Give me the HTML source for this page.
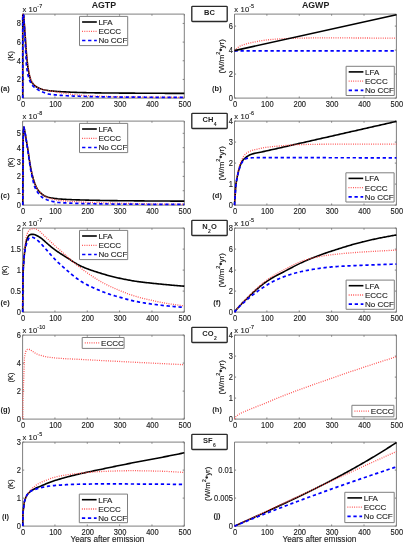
<!DOCTYPE html>
<html><head><meta charset="utf-8"><style>
html,body{margin:0;padding:0;background:#fff;width:404px;height:545px;overflow:hidden}
text{stroke:#1e1e1e;stroke-width:0.14px}
text[font-weight="bold"]{stroke-width:0}

</style></head><body>
<svg width="404" height="545" viewBox="0 0 404 545" style="display:block;filter:blur(0.3px)">
<g font-family='"Liberation Sans", sans-serif' stroke-linejoin="round">
<text x="103.9" y="8.2" font-size="8.8" text-anchor="middle" font-weight="bold" fill="#1e1e1e" >AGTP</text>
<text x="315.6" y="8.2" font-size="8.8" text-anchor="middle" font-weight="bold" fill="#1e1e1e" >AGWP</text>
<rect x="22.6" y="14.1" width="161.7" height="84" fill="none" stroke="#7f7f7f" stroke-width="1"/>
<path d="M22.6 98.1 v-1.6 M22.6 14.1 v1.6" stroke="#7f7f7f" stroke-width="1"/>
<text transform="translate(23.1 107.1) scale(0.92 1)" font-size="8.2" text-anchor="middle" font-weight="normal" fill="#1e1e1e" >0</text>
<path d="M54.94 98.1 v-1.6 M54.94 14.1 v1.6" stroke="#7f7f7f" stroke-width="1"/>
<text transform="translate(55.44 107.1) scale(0.92 1)" font-size="8.2" text-anchor="middle" font-weight="normal" fill="#1e1e1e" >100</text>
<path d="M87.28 98.1 v-1.6 M87.28 14.1 v1.6" stroke="#7f7f7f" stroke-width="1"/>
<text transform="translate(87.78 107.1) scale(0.92 1)" font-size="8.2" text-anchor="middle" font-weight="normal" fill="#1e1e1e" >200</text>
<path d="M119.62 98.1 v-1.6 M119.62 14.1 v1.6" stroke="#7f7f7f" stroke-width="1"/>
<text transform="translate(120.12 107.1) scale(0.92 1)" font-size="8.2" text-anchor="middle" font-weight="normal" fill="#1e1e1e" >300</text>
<path d="M151.96 98.1 v-1.6 M151.96 14.1 v1.6" stroke="#7f7f7f" stroke-width="1"/>
<text transform="translate(152.46 107.1) scale(0.92 1)" font-size="8.2" text-anchor="middle" font-weight="normal" fill="#1e1e1e" >400</text>
<path d="M184.3 98.1 v-1.6 M184.3 14.1 v1.6" stroke="#7f7f7f" stroke-width="1"/>
<text transform="translate(184.8 107.1) scale(0.92 1)" font-size="8.2" text-anchor="middle" font-weight="normal" fill="#1e1e1e" >500</text>
<path d="M22.6 98.1 h1.6 M184.3 98.1 h-1.6" stroke="#7f7f7f" stroke-width="1"/>
<text transform="translate(21 101) scale(0.92 1)" font-size="8.2" text-anchor="end" font-weight="normal" fill="#1e1e1e" >0</text>
<path d="M22.6 79.43 h1.6 M184.3 79.43 h-1.6" stroke="#7f7f7f" stroke-width="1"/>
<text transform="translate(21 82.33) scale(0.92 1)" font-size="8.2" text-anchor="end" font-weight="normal" fill="#1e1e1e" >2</text>
<path d="M22.6 60.77 h1.6 M184.3 60.77 h-1.6" stroke="#7f7f7f" stroke-width="1"/>
<text transform="translate(21 63.67) scale(0.92 1)" font-size="8.2" text-anchor="end" font-weight="normal" fill="#1e1e1e" >4</text>
<path d="M22.6 42.1 h1.6 M184.3 42.1 h-1.6" stroke="#7f7f7f" stroke-width="1"/>
<text transform="translate(21 45) scale(0.92 1)" font-size="8.2" text-anchor="end" font-weight="normal" fill="#1e1e1e" >6</text>
<path d="M22.6 23.43 h1.6 M184.3 23.43 h-1.6" stroke="#7f7f7f" stroke-width="1"/>
<text transform="translate(21 26.33) scale(0.92 1)" font-size="8.2" text-anchor="end" font-weight="normal" fill="#1e1e1e" >8</text>
<text x="22.4" y="11.6" font-size="7.6" fill="#1e1e1e" letter-spacing="0.15">x 10<tspan font-size="5.4" dy="-4.0" letter-spacing="0">-7</tspan></text>
<path d="M22.75 98.1 L22.75 14.6 L23.2 14.4 L23.7 15.3 L25.05 34.13 L26.4 53.29 L27.75 66.48 L29.1 74.27 L30.45 79.24 L31.8 82.18 L33.15 84.07 L34.5 85.48 L35.85 86.5 L37.2 87.32 L38.55 87.99 L39.89 88.55 L41.24 89.01 L42.59 89.42 L43.94 89.77 L45.29 90.08 L46.64 90.32 L47.99 90.53 L49.34 90.71 L50.69 90.87 L52.04 91 L53.39 91.13 L54.74 91.25 L56.09 91.36 L57.44 91.45 L58.79 91.54 L60.14 91.63 L61.49 91.7 L62.84 91.78 L64.19 91.85 L65.54 91.92 L66.89 91.99 L68.24 92.05 L69.59 92.12 L70.94 92.18 L72.28 92.23 L73.63 92.29 L74.98 92.34 L76.33 92.38 L77.68 92.43 L79.03 92.47 L80.38 92.51 L81.73 92.55 L83.08 92.58 L84.43 92.62 L85.78 92.65 L87.13 92.68 L88.48 92.72 L89.83 92.74 L91.18 92.77 L92.53 92.8 L93.88 92.82 L95.23 92.85 L96.58 92.87 L97.93 92.88 L99.28 92.9 L100.63 92.92 L101.98 92.93 L103.33 92.94 L104.67 92.96 L106.02 92.97 L107.37 92.98 L108.72 93 L110.07 93.01 L111.42 93.02 L112.77 93.03 L114.12 93.04 L115.47 93.05 L116.82 93.06 L118.17 93.07 L119.52 93.08 L120.87 93.09 L122.22 93.1 L123.57 93.11 L124.92 93.11 L126.27 93.12 L127.62 93.13 L128.97 93.14 L130.32 93.15 L131.67 93.15 L133.02 93.16 L134.37 93.17 L135.72 93.18 L137.06 93.18 L138.41 93.19 L139.76 93.2 L141.11 93.21 L142.46 93.21 L143.81 93.22 L145.16 93.23 L146.51 93.24 L147.86 93.24 L149.21 93.25 L150.56 93.26 L151.91 93.26 L153.26 93.27 L154.61 93.28 L155.96 93.28 L157.31 93.29 L158.66 93.3 L160.01 93.3 L161.36 93.31 L162.71 93.32 L164.06 93.32 L165.41 93.33 L166.76 93.33 L168.11 93.34 L169.45 93.35 L170.8 93.35 L172.15 93.36 L173.5 93.36 L174.85 93.37 L176.2 93.37 L177.55 93.38 L178.9 93.38 L180.25 93.39 L181.6 93.39 L182.95 93.4 L184.3 93.4" fill="none" stroke="#000" stroke-width="1.6" stroke-linejoin="round"/>
<path d="M22.75 98.1 L22.75 14.6 L23.2 14.4 L23.8 15.3 L25.15 32.2 L26.5 52.08 L27.85 65.03 L29.19 73.11 L30.54 78.46 L31.89 81.62 L33.24 83.61 L34.59 85.09 L35.94 86.17 L37.29 87.01 L38.64 87.71 L39.98 88.31 L41.33 88.82 L42.68 89.28 L44.03 89.69 L45.38 90.05 L46.73 90.35 L48.08 90.59 L49.43 90.81 L50.77 91.01 L52.12 91.22 L53.47 91.45 L54.82 91.67 L56.17 91.9 L57.52 92.12 L58.87 92.34 L60.22 92.56 L61.56 92.77 L62.91 92.98 L64.26 93.19 L65.61 93.39 L66.96 93.6 L68.31 93.81 L69.66 94.02 L71.01 94.21 L72.35 94.39 L73.7 94.54 L75.05 94.69 L76.4 94.82 L77.75 94.95 L79.1 95.07 L80.45 95.18 L81.8 95.28 L83.14 95.38 L84.49 95.47 L85.84 95.55 L87.19 95.63 L88.54 95.7 L89.89 95.78 L91.24 95.84 L92.59 95.91 L93.93 95.97 L95.28 96.03 L96.63 96.08 L97.98 96.13 L99.33 96.18 L100.68 96.22 L102.03 96.26 L103.38 96.31 L104.72 96.35 L106.07 96.39 L107.42 96.43 L108.77 96.47 L110.12 96.5 L111.47 96.54 L112.82 96.57 L114.17 96.61 L115.51 96.64 L116.86 96.67 L118.21 96.7 L119.56 96.73 L120.91 96.76 L122.26 96.78 L123.61 96.81 L124.96 96.83 L126.3 96.85 L127.65 96.87 L129 96.89 L130.35 96.9 L131.7 96.92 L133.05 96.94 L134.4 96.95 L135.75 96.97 L137.09 96.98 L138.44 97 L139.79 97.01 L141.14 97.03 L142.49 97.04 L143.84 97.06 L145.19 97.07 L146.54 97.08 L147.88 97.1 L149.23 97.11 L150.58 97.12 L151.93 97.13 L153.28 97.15 L154.63 97.16 L155.98 97.17 L157.33 97.18 L158.67 97.19 L160.02 97.2 L161.37 97.21 L162.72 97.22 L164.07 97.23 L165.42 97.24 L166.77 97.25 L168.12 97.25 L169.46 97.26 L170.81 97.27 L172.16 97.27 L173.51 97.28 L174.86 97.28 L176.21 97.29 L177.56 97.29 L178.91 97.29 L180.25 97.3 L181.6 97.3 L182.95 97.3 L184.3 97.3" fill="none" stroke="#ff4a4a" stroke-width="1.3" stroke-dasharray="0.9 1.35"/>
<path d="M22.75 98.1 L22.75 14.6 L23.2 14.4 L23.7 15.3 L25.05 39.41 L26.4 65.29 L27.75 74.33 L29.1 79.08 L30.45 82.2 L31.8 84.54 L33.15 86.25 L34.5 87.5 L35.85 88.49 L37.2 89.34 L38.55 90.12 L39.89 90.82 L41.24 91.45 L42.59 92.02 L43.94 92.54 L45.29 93.04 L46.64 93.49 L47.99 93.85 L49.34 94.12 L50.69 94.33 L52.04 94.53 L53.39 94.69 L54.74 94.84 L56.09 94.97 L57.44 95.09 L58.79 95.21 L60.14 95.31 L61.49 95.41 L62.84 95.51 L64.19 95.59 L65.54 95.67 L66.89 95.75 L68.24 95.82 L69.59 95.88 L70.94 95.94 L72.28 96 L73.63 96.05 L74.98 96.11 L76.33 96.16 L77.68 96.21 L79.03 96.26 L80.38 96.31 L81.73 96.36 L83.08 96.4 L84.43 96.45 L85.78 96.49 L87.13 96.53 L88.48 96.57 L89.83 96.6 L91.18 96.64 L92.53 96.67 L93.88 96.7 L95.23 96.73 L96.58 96.76 L97.93 96.78 L99.28 96.8 L100.63 96.82 L101.98 96.84 L103.33 96.86 L104.67 96.88 L106.02 96.9 L107.37 96.91 L108.72 96.93 L110.07 96.95 L111.42 96.96 L112.77 96.98 L114.12 96.99 L115.47 97.01 L116.82 97.02 L118.17 97.03 L119.52 97.05 L120.87 97.06 L122.22 97.07 L123.57 97.08 L124.92 97.09 L126.27 97.1 L127.62 97.11 L128.97 97.12 L130.32 97.13 L131.67 97.14 L133.02 97.15 L134.37 97.16 L135.72 97.17 L137.06 97.18 L138.41 97.19 L139.76 97.2 L141.11 97.21 L142.46 97.22 L143.81 97.22 L145.16 97.23 L146.51 97.24 L147.86 97.25 L149.21 97.26 L150.56 97.26 L151.91 97.27 L153.26 97.28 L154.61 97.29 L155.96 97.29 L157.31 97.3 L158.66 97.31 L160.01 97.31 L161.36 97.32 L162.71 97.33 L164.06 97.33 L165.41 97.34 L166.76 97.35 L168.11 97.35 L169.45 97.36 L170.8 97.36 L172.15 97.37 L173.5 97.37 L174.85 97.38 L176.2 97.38 L177.55 97.38 L178.9 97.39 L180.25 97.39 L181.6 97.39 L182.95 97.4 L184.3 97.4" fill="none" stroke="#0000ff" stroke-width="1.7" stroke-dasharray="3.3 2.7"/>
<rect x="79.5" y="16.4" width="48.2" height="29.2" fill="#fff" stroke="#7f7f7f" stroke-width="1"/>
<path d="M82.1 22 L96.8 22" fill="none" stroke="#000" stroke-width="1.6" stroke-linejoin="round"/>
<text x="98.4" y="24.8" font-size="8.0" text-anchor="start" font-weight="normal" fill="#1e1e1e" >LFA</text>
<path d="M82.1 31.3 L96.8 31.3" fill="none" stroke="#ff4a4a" stroke-width="1.3" stroke-dasharray="0.9 1.35"/>
<text x="98.4" y="34.1" font-size="8.0" text-anchor="start" font-weight="normal" fill="#1e1e1e" >ECCC</text>
<path d="M82.1 40.5 L96.8 40.5" fill="none" stroke="#0000ff" stroke-width="1.7" stroke-dasharray="3.3 2.7"/>
<text x="98.4" y="43.3" font-size="8.0" text-anchor="start" font-weight="normal" fill="#1e1e1e" >No CCF</text>
<text x="0" y="0" font-size="7.5" text-anchor="middle" fill="#1e1e1e" transform="translate(12.7 56.1) rotate(-90)">(K)</text>
<text x="0.6" y="90.5" font-size="7.5" text-anchor="start" font-weight="bold" fill="#1e1e1e" >(a)</text>
<rect x="22.6" y="121.1" width="161.7" height="84" fill="none" stroke="#7f7f7f" stroke-width="1"/>
<path d="M22.6 205.1 v-1.6 M22.6 121.1 v1.6" stroke="#7f7f7f" stroke-width="1"/>
<text transform="translate(23.1 214.1) scale(0.92 1)" font-size="8.2" text-anchor="middle" font-weight="normal" fill="#1e1e1e" >0</text>
<path d="M54.94 205.1 v-1.6 M54.94 121.1 v1.6" stroke="#7f7f7f" stroke-width="1"/>
<text transform="translate(55.44 214.1) scale(0.92 1)" font-size="8.2" text-anchor="middle" font-weight="normal" fill="#1e1e1e" >100</text>
<path d="M87.28 205.1 v-1.6 M87.28 121.1 v1.6" stroke="#7f7f7f" stroke-width="1"/>
<text transform="translate(87.78 214.1) scale(0.92 1)" font-size="8.2" text-anchor="middle" font-weight="normal" fill="#1e1e1e" >200</text>
<path d="M119.62 205.1 v-1.6 M119.62 121.1 v1.6" stroke="#7f7f7f" stroke-width="1"/>
<text transform="translate(120.12 214.1) scale(0.92 1)" font-size="8.2" text-anchor="middle" font-weight="normal" fill="#1e1e1e" >300</text>
<path d="M151.96 205.1 v-1.6 M151.96 121.1 v1.6" stroke="#7f7f7f" stroke-width="1"/>
<text transform="translate(152.46 214.1) scale(0.92 1)" font-size="8.2" text-anchor="middle" font-weight="normal" fill="#1e1e1e" >400</text>
<path d="M184.3 205.1 v-1.6 M184.3 121.1 v1.6" stroke="#7f7f7f" stroke-width="1"/>
<text transform="translate(184.8 214.1) scale(0.92 1)" font-size="8.2" text-anchor="middle" font-weight="normal" fill="#1e1e1e" >500</text>
<path d="M22.6 205.1 h1.6 M184.3 205.1 h-1.6" stroke="#7f7f7f" stroke-width="1"/>
<text transform="translate(21 208) scale(0.92 1)" font-size="8.2" text-anchor="end" font-weight="normal" fill="#1e1e1e" >0</text>
<path d="M22.6 190.74 h1.6 M184.3 190.74 h-1.6" stroke="#7f7f7f" stroke-width="1"/>
<text transform="translate(21 193.64) scale(0.92 1)" font-size="8.2" text-anchor="end" font-weight="normal" fill="#1e1e1e" >1</text>
<path d="M22.6 176.38 h1.6 M184.3 176.38 h-1.6" stroke="#7f7f7f" stroke-width="1"/>
<text transform="translate(21 179.28) scale(0.92 1)" font-size="8.2" text-anchor="end" font-weight="normal" fill="#1e1e1e" >2</text>
<path d="M22.6 162.02 h1.6 M184.3 162.02 h-1.6" stroke="#7f7f7f" stroke-width="1"/>
<text transform="translate(21 164.92) scale(0.92 1)" font-size="8.2" text-anchor="end" font-weight="normal" fill="#1e1e1e" >3</text>
<path d="M22.6 147.66 h1.6 M184.3 147.66 h-1.6" stroke="#7f7f7f" stroke-width="1"/>
<text transform="translate(21 150.56) scale(0.92 1)" font-size="8.2" text-anchor="end" font-weight="normal" fill="#1e1e1e" >4</text>
<path d="M22.6 133.31 h1.6 M184.3 133.31 h-1.6" stroke="#7f7f7f" stroke-width="1"/>
<text transform="translate(21 136.21) scale(0.92 1)" font-size="8.2" text-anchor="end" font-weight="normal" fill="#1e1e1e" >5</text>
<text x="22.4" y="118.6" font-size="7.6" fill="#1e1e1e" letter-spacing="0.15">x 10<tspan font-size="5.4" dy="-4.0" letter-spacing="0">-8</tspan></text>
<path d="M22.8 205.1 L23 170 L23.2 140 L23.5 130.5 L23.9 127 L25.25 133.68 L26.6 141.92 L27.94 149.93 L29.29 159.43 L30.64 167.57 L31.99 173.98 L33.34 178.98 L34.68 183.17 L36.03 186.61 L37.38 189.11 L38.73 190.94 L40.07 192.39 L41.42 193.65 L42.77 194.77 L44.12 195.67 L45.47 196.27 L46.81 196.75 L48.16 197.15 L49.51 197.5 L50.86 197.79 L52.21 198.04 L53.55 198.26 L54.9 198.47 L56.25 198.66 L57.6 198.82 L58.95 198.94 L60.29 199.04 L61.64 199.13 L62.99 199.21 L64.34 199.29 L65.68 199.36 L67.03 199.43 L68.38 199.5 L69.73 199.56 L71.08 199.62 L72.42 199.68 L73.77 199.73 L75.12 199.78 L76.47 199.83 L77.82 199.87 L79.16 199.91 L80.51 199.95 L81.86 199.99 L83.21 200.03 L84.56 200.07 L85.9 200.1 L87.25 200.13 L88.6 200.17 L89.95 200.2 L91.29 200.23 L92.64 200.26 L93.99 200.29 L95.34 200.32 L96.69 200.35 L98.03 200.37 L99.38 200.4 L100.73 200.43 L102.08 200.45 L103.43 200.48 L104.77 200.5 L106.12 200.52 L107.47 200.54 L108.82 200.56 L110.17 200.58 L111.51 200.6 L112.86 200.62 L114.21 200.64 L115.56 200.65 L116.91 200.67 L118.25 200.68 L119.6 200.7 L120.95 200.71 L122.3 200.72 L123.64 200.73 L124.99 200.75 L126.34 200.76 L127.69 200.77 L129.04 200.79 L130.38 200.8 L131.73 200.81 L133.08 200.82 L134.43 200.83 L135.78 200.85 L137.12 200.86 L138.47 200.87 L139.82 200.88 L141.17 200.89 L142.52 200.9 L143.86 200.91 L145.21 200.93 L146.56 200.94 L147.91 200.95 L149.25 200.96 L150.6 200.97 L151.95 200.98 L153.3 200.98 L154.65 200.99 L155.99 201 L157.34 201.01 L158.69 201.02 L160.04 201.03 L161.39 201.03 L162.73 201.04 L164.08 201.05 L165.43 201.05 L166.78 201.06 L168.13 201.07 L169.47 201.07 L170.82 201.08 L172.17 201.08 L173.52 201.08 L174.86 201.09 L176.21 201.09 L177.56 201.09 L178.91 201.1 L180.26 201.1 L181.6 201.1 L182.95 201.1 L184.3 201.1" fill="none" stroke="#000" stroke-width="1.6" stroke-linejoin="round"/>
<path d="M22.8 205.1 L23 170 L23.2 140 L23.5 130.5 L23.9 127 L25.25 133.43 L26.6 141.26 L27.94 149.29 L29.29 158.69 L30.64 167.04 L31.99 173.56 L33.34 178.64 L34.68 182.87 L36.03 186.37 L37.38 188.96 L38.73 190.86 L40.07 192.37 L41.42 193.68 L42.77 194.84 L44.12 195.8 L45.47 196.55 L46.81 197.19 L48.16 197.77 L49.51 198.26 L50.86 198.69 L52.21 199.05 L53.55 199.37 L54.9 199.65 L56.25 199.91 L57.6 200.13 L58.95 200.31 L60.29 200.46 L61.64 200.6 L62.99 200.73 L64.34 200.86 L65.68 200.98 L67.03 201.09 L68.38 201.2 L69.73 201.3 L71.08 201.4 L72.42 201.49 L73.77 201.58 L75.12 201.66 L76.47 201.75 L77.82 201.82 L79.16 201.9 L80.51 201.97 L81.86 202.04 L83.21 202.1 L84.56 202.16 L85.9 202.23 L87.25 202.28 L88.6 202.34 L89.95 202.4 L91.29 202.45 L92.64 202.51 L93.99 202.56 L95.34 202.61 L96.69 202.66 L98.03 202.71 L99.38 202.75 L100.73 202.8 L102.08 202.84 L103.43 202.88 L104.77 202.92 L106.12 202.96 L107.47 203 L108.82 203.04 L110.17 203.07 L111.51 203.11 L112.86 203.14 L114.21 203.17 L115.56 203.21 L116.91 203.24 L118.25 203.26 L119.6 203.29 L120.95 203.32 L122.3 203.35 L123.64 203.37 L124.99 203.4 L126.34 203.43 L127.69 203.45 L129.04 203.48 L130.38 203.5 L131.73 203.53 L133.08 203.56 L134.43 203.58 L135.78 203.61 L137.12 203.63 L138.47 203.66 L139.82 203.68 L141.17 203.7 L142.52 203.73 L143.86 203.75 L145.21 203.77 L146.56 203.8 L147.91 203.82 L149.25 203.84 L150.6 203.86 L151.95 203.88 L153.3 203.9 L154.65 203.92 L155.99 203.94 L157.34 203.96 L158.69 203.98 L160.04 204 L161.39 204.01 L162.73 204.03 L164.08 204.05 L165.43 204.06 L166.78 204.08 L168.13 204.09 L169.47 204.1 L170.82 204.12 L172.17 204.13 L173.52 204.14 L174.86 204.15 L176.21 204.16 L177.56 204.17 L178.91 204.18 L180.26 204.18 L181.6 204.19 L182.95 204.2 L184.3 204.2" fill="none" stroke="#ff4a4a" stroke-width="1.3" stroke-dasharray="0.9 1.35"/>
<path d="M22.8 205.1 L23 170 L23.2 140 L23.5 130.5 L23.9 127 L25.25 133.97 L26.6 142.72 L27.94 151.15 L29.29 161.18 L30.64 169.64 L31.99 176.45 L33.34 182.03 L34.68 186.66 L36.03 189.78 L37.38 191.98 L38.73 193.8 L40.07 195.44 L41.42 196.74 L42.77 197.69 L44.12 198.49 L45.47 199.16 L46.81 199.73 L48.16 200.21 L49.51 200.64 L50.86 201.01 L52.21 201.33 L53.55 201.61 L54.9 201.88 L56.25 202.13 L57.6 202.34 L58.95 202.51 L60.29 202.62 L61.64 202.71 L62.99 202.79 L64.34 202.87 L65.68 202.94 L67.03 203.01 L68.38 203.07 L69.73 203.13 L71.08 203.19 L72.42 203.24 L73.77 203.29 L75.12 203.34 L76.47 203.38 L77.82 203.42 L79.16 203.46 L80.51 203.49 L81.86 203.53 L83.21 203.56 L84.56 203.59 L85.9 203.62 L87.25 203.65 L88.6 203.67 L89.95 203.7 L91.29 203.72 L92.64 203.75 L93.99 203.77 L95.34 203.8 L96.69 203.82 L98.03 203.84 L99.38 203.86 L100.73 203.89 L102.08 203.91 L103.43 203.92 L104.77 203.94 L106.12 203.96 L107.47 203.98 L108.82 203.99 L110.17 204.01 L111.51 204.02 L112.86 204.04 L114.21 204.05 L115.56 204.06 L116.91 204.08 L118.25 204.09 L119.6 204.1 L120.95 204.11 L122.3 204.12 L123.64 204.13 L124.99 204.14 L126.34 204.15 L127.69 204.16 L129.04 204.17 L130.38 204.17 L131.73 204.18 L133.08 204.19 L134.43 204.2 L135.78 204.21 L137.12 204.22 L138.47 204.23 L139.82 204.24 L141.17 204.25 L142.52 204.25 L143.86 204.26 L145.21 204.27 L146.56 204.28 L147.91 204.29 L149.25 204.29 L150.6 204.3 L151.95 204.31 L153.3 204.31 L154.65 204.32 L155.99 204.33 L157.34 204.33 L158.69 204.34 L160.04 204.35 L161.39 204.35 L162.73 204.36 L164.08 204.36 L165.43 204.37 L166.78 204.37 L168.13 204.37 L169.47 204.38 L170.82 204.38 L172.17 204.39 L173.52 204.39 L174.86 204.39 L176.21 204.39 L177.56 204.4 L178.91 204.4 L180.26 204.4 L181.6 204.4 L182.95 204.4 L184.3 204.4" fill="none" stroke="#0000ff" stroke-width="1.7" stroke-dasharray="3.3 2.7"/>
<rect x="79.5" y="123.4" width="48.2" height="29.2" fill="#fff" stroke="#7f7f7f" stroke-width="1"/>
<path d="M82.1 129 L96.8 129" fill="none" stroke="#000" stroke-width="1.6" stroke-linejoin="round"/>
<text x="98.4" y="131.8" font-size="8.0" text-anchor="start" font-weight="normal" fill="#1e1e1e" >LFA</text>
<path d="M82.1 138.3 L96.8 138.3" fill="none" stroke="#ff4a4a" stroke-width="1.3" stroke-dasharray="0.9 1.35"/>
<text x="98.4" y="141.1" font-size="8.0" text-anchor="start" font-weight="normal" fill="#1e1e1e" >ECCC</text>
<path d="M82.1 147.5 L96.8 147.5" fill="none" stroke="#0000ff" stroke-width="1.7" stroke-dasharray="3.3 2.7"/>
<text x="98.4" y="150.3" font-size="8.0" text-anchor="start" font-weight="normal" fill="#1e1e1e" >No CCF</text>
<text x="0" y="0" font-size="7.5" text-anchor="middle" fill="#1e1e1e" transform="translate(12.5 162.6) rotate(-90)">(K)</text>
<text x="0.6" y="197.5" font-size="7.5" text-anchor="start" font-weight="bold" fill="#1e1e1e" >(c)</text>
<rect x="22.6" y="228.1" width="161.7" height="84" fill="none" stroke="#7f7f7f" stroke-width="1"/>
<path d="M22.6 312.1 v-1.6 M22.6 228.1 v1.6" stroke="#7f7f7f" stroke-width="1"/>
<text transform="translate(23.1 321.1) scale(0.92 1)" font-size="8.2" text-anchor="middle" font-weight="normal" fill="#1e1e1e" >0</text>
<path d="M54.94 312.1 v-1.6 M54.94 228.1 v1.6" stroke="#7f7f7f" stroke-width="1"/>
<text transform="translate(55.44 321.1) scale(0.92 1)" font-size="8.2" text-anchor="middle" font-weight="normal" fill="#1e1e1e" >100</text>
<path d="M87.28 312.1 v-1.6 M87.28 228.1 v1.6" stroke="#7f7f7f" stroke-width="1"/>
<text transform="translate(87.78 321.1) scale(0.92 1)" font-size="8.2" text-anchor="middle" font-weight="normal" fill="#1e1e1e" >200</text>
<path d="M119.62 312.1 v-1.6 M119.62 228.1 v1.6" stroke="#7f7f7f" stroke-width="1"/>
<text transform="translate(120.12 321.1) scale(0.92 1)" font-size="8.2" text-anchor="middle" font-weight="normal" fill="#1e1e1e" >300</text>
<path d="M151.96 312.1 v-1.6 M151.96 228.1 v1.6" stroke="#7f7f7f" stroke-width="1"/>
<text transform="translate(152.46 321.1) scale(0.92 1)" font-size="8.2" text-anchor="middle" font-weight="normal" fill="#1e1e1e" >400</text>
<path d="M184.3 312.1 v-1.6 M184.3 228.1 v1.6" stroke="#7f7f7f" stroke-width="1"/>
<text transform="translate(184.8 321.1) scale(0.92 1)" font-size="8.2" text-anchor="middle" font-weight="normal" fill="#1e1e1e" >500</text>
<path d="M22.6 312.1 h1.6 M184.3 312.1 h-1.6" stroke="#7f7f7f" stroke-width="1"/>
<text transform="translate(21 315) scale(0.92 1)" font-size="8.2" text-anchor="end" font-weight="normal" fill="#1e1e1e" >0</text>
<path d="M22.6 291.1 h1.6 M184.3 291.1 h-1.6" stroke="#7f7f7f" stroke-width="1"/>
<text transform="translate(21 294) scale(0.92 1)" font-size="8.2" text-anchor="end" font-weight="normal" fill="#1e1e1e" >0.5</text>
<path d="M22.6 270.1 h1.6 M184.3 270.1 h-1.6" stroke="#7f7f7f" stroke-width="1"/>
<text transform="translate(21 273) scale(0.92 1)" font-size="8.2" text-anchor="end" font-weight="normal" fill="#1e1e1e" >1</text>
<path d="M22.6 249.1 h1.6 M184.3 249.1 h-1.6" stroke="#7f7f7f" stroke-width="1"/>
<text transform="translate(21 252) scale(0.92 1)" font-size="8.2" text-anchor="end" font-weight="normal" fill="#1e1e1e" >1.5</text>
<path d="M22.6 228.1 h1.6 M184.3 228.1 h-1.6" stroke="#7f7f7f" stroke-width="1"/>
<text transform="translate(21 231) scale(0.92 1)" font-size="8.2" text-anchor="end" font-weight="normal" fill="#1e1e1e" >2</text>
<text x="22.4" y="225.6" font-size="7.6" fill="#1e1e1e" letter-spacing="0.15">x 10<tspan font-size="5.4" dy="-4.0" letter-spacing="0">-7</tspan></text>
<path d="M22.7 312.1 L22.9 290 L23.1 270.6 L24.1 256.75 L25.1 247.74 L26.1 242.09 L27.1 238.76 L28.1 236.64 L29.1 235.24 L30.1 234.69 L31.1 234.36 L32.1 234.31 L33.1 234.41 L34.1 234.58 L35.1 234.85 L36.1 235.29 L37.1 235.8 L38.1 236.31 L39.1 236.87 L40.1 237.49 L41.1 238.21 L42.1 238.97 L43.1 239.81 L44.1 240.7 L45.1 241.6 L46.1 242.48 L47.1 243.36 L48.1 244.23 L49.1 245.09 L50.1 245.94 L51.1 246.76 L52.1 247.57 L53.1 248.36 L54.1 249.13 L55.1 249.89 L56.1 250.62 L57.1 251.34 L58.1 252.03 L59.1 252.7 L60.1 253.36 L61.1 254 L62.1 254.62 L63.1 255.24 L64.1 255.86 L65.1 256.48 L66.1 257.1 L67.1 257.74 L68.1 258.39 L69.1 259.04 L70.1 259.7 L71.1 260.36 L72.1 261.02 L73.1 261.67 L74.1 262.31 L75.1 262.92 L76.1 263.52 L77.1 264.1 L78.1 264.65 L79.1 265.18 L80.1 265.69 L81.1 266.18 L82.1 266.65 L83.1 267.1 L84.1 267.53 L85.1 267.95 L86.1 268.36 L87.1 268.74 L88.1 269.12 L89.1 269.48 L90.1 269.84 L91.1 270.18 L92.1 270.52 L93.1 270.85 L94.1 271.17 L95.1 271.5 L96.1 271.81 L97.1 272.13 L98.1 272.44 L99.1 272.76 L100.1 273.07 L101.1 273.38 L102.1 273.68 L103.1 273.99 L104.1 274.29 L105.1 274.59 L106.1 274.88 L107.1 275.17 L108.1 275.46 L109.1 275.74 L110.1 276.01 L111.1 276.27 L112.1 276.52 L113.1 276.77 L114.1 277.01 L115.1 277.24 L116.1 277.47 L117.1 277.7 L118.1 277.92 L119.1 278.14 L120.1 278.35 L121.1 278.56 L122.1 278.76 L123.1 278.97 L124.1 279.17 L125.1 279.37 L126.1 279.56 L127.1 279.76 L128.1 279.95 L129.1 280.14 L130.1 280.33 L131.1 280.51 L132.1 280.69 L133.1 280.86 L134.1 281.02 L135.1 281.18 L136.1 281.33 L137.1 281.47 L138.1 281.61 L139.1 281.75 L140.1 281.88 L141.1 282 L142.1 282.12 L143.1 282.24 L144.1 282.36 L145.1 282.47 L146.1 282.58 L147.1 282.7 L148.1 282.8 L149.1 282.91 L150.1 283.02 L151.1 283.13 L152.1 283.23 L153.1 283.34 L154.1 283.44 L155.1 283.55 L156.1 283.65 L157.1 283.75 L158.1 283.86 L159.1 283.96 L160.1 284.06 L161.1 284.15 L162.1 284.25 L163.1 284.35 L164.1 284.44 L165.1 284.54 L166.1 284.63 L167.1 284.72 L168.1 284.81 L169.1 284.91 L170.1 285 L171.1 285.09 L172.1 285.18 L173.1 285.26 L174.1 285.35 L175.1 285.44 L176.1 285.52 L177.1 285.61 L178.1 285.69 L179.1 285.78 L180.1 285.86 L181.1 285.94 L182.1 286.02 L183.1 286.1 L184.1 286.17 L184.3 286.21" fill="none" stroke="#000" stroke-width="1.6" stroke-linejoin="round"/>
<path d="M22.7 312.1 L22.9 290 L23.1 270 L24.1 254.44 L25.1 244.51 L26.1 237.91 L27.1 233.91 L28.1 231.63 L29.1 230.27 L30.1 229.55 L31.1 229.07 L32.1 228.82 L33.1 228.67 L34.1 228.6 L35.1 228.74 L36.1 229.16 L37.1 229.69 L38.1 230.25 L39.1 230.98 L40.1 231.83 L41.1 232.73 L42.1 233.65 L43.1 234.6 L44.1 235.57 L45.1 236.52 L46.1 237.47 L47.1 238.42 L48.1 239.37 L49.1 240.31 L50.1 241.25 L51.1 242.19 L52.1 243.12 L53.1 244.05 L54.1 244.97 L55.1 245.89 L56.1 246.8 L57.1 247.69 L58.1 248.57 L59.1 249.44 L60.1 250.31 L61.1 251.18 L62.1 252.05 L63.1 252.94 L64.1 253.83 L65.1 254.74 L66.1 255.65 L67.1 256.56 L68.1 257.47 L69.1 258.37 L70.1 259.27 L71.1 260.16 L72.1 261.03 L73.1 261.89 L74.1 262.74 L75.1 263.57 L76.1 264.39 L77.1 265.21 L78.1 266.01 L79.1 266.81 L80.1 267.59 L81.1 268.37 L82.1 269.14 L83.1 269.9 L84.1 270.64 L85.1 271.37 L86.1 272.08 L87.1 272.79 L88.1 273.48 L89.1 274.17 L90.1 274.85 L91.1 275.52 L92.1 276.19 L93.1 276.85 L94.1 277.5 L95.1 278.14 L96.1 278.77 L97.1 279.38 L98.1 279.99 L99.1 280.57 L100.1 281.15 L101.1 281.72 L102.1 282.27 L103.1 282.82 L104.1 283.35 L105.1 283.88 L106.1 284.4 L107.1 284.9 L108.1 285.4 L109.1 285.88 L110.1 286.36 L111.1 286.83 L112.1 287.28 L113.1 287.73 L114.1 288.17 L115.1 288.61 L116.1 289.04 L117.1 289.46 L118.1 289.88 L119.1 290.3 L120.1 290.72 L121.1 291.13 L122.1 291.53 L123.1 291.94 L124.1 292.34 L125.1 292.73 L126.1 293.11 L127.1 293.49 L128.1 293.86 L129.1 294.22 L130.1 294.57 L131.1 294.91 L132.1 295.24 L133.1 295.57 L134.1 295.88 L135.1 296.19 L136.1 296.48 L137.1 296.77 L138.1 297.05 L139.1 297.32 L140.1 297.59 L141.1 297.85 L142.1 298.11 L143.1 298.36 L144.1 298.6 L145.1 298.85 L146.1 299.09 L147.1 299.32 L148.1 299.56 L149.1 299.79 L150.1 300.01 L151.1 300.24 L152.1 300.46 L153.1 300.68 L154.1 300.9 L155.1 301.11 L156.1 301.33 L157.1 301.54 L158.1 301.75 L159.1 301.96 L160.1 302.16 L161.1 302.36 L162.1 302.56 L163.1 302.75 L164.1 302.93 L165.1 303.12 L166.1 303.29 L167.1 303.47 L168.1 303.63 L169.1 303.8 L170.1 303.95 L171.1 304.11 L172.1 304.26 L173.1 304.4 L174.1 304.55 L175.1 304.68 L176.1 304.82 L177.1 304.95 L178.1 305.08 L179.1 305.2 L180.1 305.32 L181.1 305.44 L182.1 305.55 L183.1 305.67 L184.1 305.78 L184.3 305.83" fill="none" stroke="#ff4a4a" stroke-width="1.3" stroke-dasharray="0.9 1.35"/>
<path d="M22.7 312.1 L22.9 290 L23.2 270 L24.2 255.77 L25.2 249.28 L26.2 244.99 L27.2 241.48 L28.2 239.35 L29.2 238.06 L30.2 237.55 L31.2 237.24 L32.2 237.25 L33.2 237.56 L34.2 238 L35.2 238.55 L36.2 239.26 L37.2 240.06 L38.2 240.89 L39.2 241.8 L40.2 242.79 L41.2 243.85 L42.2 244.95 L43.2 246.09 L44.2 247.23 L45.2 248.38 L46.2 249.53 L47.2 250.68 L48.2 251.83 L49.2 252.98 L50.2 254.11 L51.2 255.24 L52.2 256.35 L53.2 257.45 L54.2 258.52 L55.2 259.56 L56.2 260.58 L57.2 261.57 L58.2 262.54 L59.2 263.48 L60.2 264.41 L61.2 265.31 L62.2 266.2 L63.2 267.08 L64.2 267.95 L65.2 268.83 L66.2 269.7 L67.2 270.57 L68.2 271.44 L69.2 272.31 L70.2 273.17 L71.2 274.02 L72.2 274.85 L73.2 275.66 L74.2 276.46 L75.2 277.23 L76.2 277.98 L77.2 278.71 L78.2 279.42 L79.2 280.11 L80.2 280.79 L81.2 281.44 L82.2 282.07 L83.2 282.68 L84.2 283.26 L85.2 283.82 L86.2 284.36 L87.2 284.87 L88.2 285.37 L89.2 285.86 L90.2 286.33 L91.2 286.8 L92.2 287.25 L93.2 287.7 L94.2 288.15 L95.2 288.59 L96.2 289.03 L97.2 289.46 L98.2 289.88 L99.2 290.31 L100.2 290.72 L101.2 291.13 L102.2 291.54 L103.2 291.94 L104.2 292.33 L105.2 292.72 L106.2 293.1 L107.2 293.46 L108.2 293.82 L109.2 294.16 L110.2 294.49 L111.2 294.81 L112.2 295.11 L113.2 295.41 L114.2 295.69 L115.2 295.97 L116.2 296.24 L117.2 296.51 L118.2 296.79 L119.2 297.06 L120.2 297.34 L121.2 297.63 L122.2 297.92 L123.2 298.21 L124.2 298.5 L125.2 298.78 L126.2 299.06 L127.2 299.34 L128.2 299.61 L129.2 299.88 L130.2 300.14 L131.2 300.39 L132.2 300.63 L133.2 300.86 L134.2 301.08 L135.2 301.3 L136.2 301.51 L137.2 301.7 L138.2 301.9 L139.2 302.08 L140.2 302.26 L141.2 302.44 L142.2 302.61 L143.2 302.77 L144.2 302.94 L145.2 303.1 L146.2 303.25 L147.2 303.4 L148.2 303.55 L149.2 303.7 L150.2 303.84 L151.2 303.98 L152.2 304.12 L153.2 304.26 L154.2 304.39 L155.2 304.52 L156.2 304.65 L157.2 304.78 L158.2 304.9 L159.2 305.02 L160.2 305.14 L161.2 305.26 L162.2 305.37 L163.2 305.48 L164.2 305.59 L165.2 305.7 L166.2 305.81 L167.2 305.91 L168.2 306.01 L169.2 306.11 L170.2 306.21 L171.2 306.3 L172.2 306.4 L173.2 306.49 L174.2 306.58 L175.2 306.67 L176.2 306.76 L177.2 306.84 L178.2 306.93 L179.2 307.01 L180.2 307.09 L181.2 307.16 L182.2 307.24 L183.2 307.31 L184.2 307.38 L184.3 307.42" fill="none" stroke="#0000ff" stroke-width="1.7" stroke-dasharray="3.3 2.7"/>
<rect x="79.5" y="230.4" width="48.2" height="29.2" fill="#fff" stroke="#7f7f7f" stroke-width="1"/>
<path d="M82.1 236 L96.8 236" fill="none" stroke="#000" stroke-width="1.6" stroke-linejoin="round"/>
<text x="98.4" y="238.8" font-size="8.0" text-anchor="start" font-weight="normal" fill="#1e1e1e" >LFA</text>
<path d="M82.1 245.3 L96.8 245.3" fill="none" stroke="#ff4a4a" stroke-width="1.3" stroke-dasharray="0.9 1.35"/>
<text x="98.4" y="248.1" font-size="8.0" text-anchor="start" font-weight="normal" fill="#1e1e1e" >ECCC</text>
<path d="M82.1 254.5 L96.8 254.5" fill="none" stroke="#0000ff" stroke-width="1.7" stroke-dasharray="3.3 2.7"/>
<text x="98.4" y="257.3" font-size="8.0" text-anchor="start" font-weight="normal" fill="#1e1e1e" >No CCF</text>
<text x="0" y="0" font-size="7.5" text-anchor="middle" fill="#1e1e1e" transform="translate(6.8 270.6) rotate(-90)">(K)</text>
<text x="0.6" y="304.5" font-size="7.5" text-anchor="start" font-weight="bold" fill="#1e1e1e" >(e)</text>
<rect x="22.6" y="335.1" width="161.7" height="84" fill="none" stroke="#7f7f7f" stroke-width="1"/>
<path d="M22.6 419.1 v-1.6 M22.6 335.1 v1.6" stroke="#7f7f7f" stroke-width="1"/>
<text transform="translate(23.1 428.1) scale(0.92 1)" font-size="8.2" text-anchor="middle" font-weight="normal" fill="#1e1e1e" >0</text>
<path d="M54.94 419.1 v-1.6 M54.94 335.1 v1.6" stroke="#7f7f7f" stroke-width="1"/>
<text transform="translate(55.44 428.1) scale(0.92 1)" font-size="8.2" text-anchor="middle" font-weight="normal" fill="#1e1e1e" >100</text>
<path d="M87.28 419.1 v-1.6 M87.28 335.1 v1.6" stroke="#7f7f7f" stroke-width="1"/>
<text transform="translate(87.78 428.1) scale(0.92 1)" font-size="8.2" text-anchor="middle" font-weight="normal" fill="#1e1e1e" >200</text>
<path d="M119.62 419.1 v-1.6 M119.62 335.1 v1.6" stroke="#7f7f7f" stroke-width="1"/>
<text transform="translate(120.12 428.1) scale(0.92 1)" font-size="8.2" text-anchor="middle" font-weight="normal" fill="#1e1e1e" >300</text>
<path d="M151.96 419.1 v-1.6 M151.96 335.1 v1.6" stroke="#7f7f7f" stroke-width="1"/>
<text transform="translate(152.46 428.1) scale(0.92 1)" font-size="8.2" text-anchor="middle" font-weight="normal" fill="#1e1e1e" >400</text>
<path d="M184.3 419.1 v-1.6 M184.3 335.1 v1.6" stroke="#7f7f7f" stroke-width="1"/>
<text transform="translate(184.8 428.1) scale(0.92 1)" font-size="8.2" text-anchor="middle" font-weight="normal" fill="#1e1e1e" >500</text>
<path d="M22.6 419.1 h1.6 M184.3 419.1 h-1.6" stroke="#7f7f7f" stroke-width="1"/>
<text transform="translate(21 422) scale(0.92 1)" font-size="8.2" text-anchor="end" font-weight="normal" fill="#1e1e1e" >0</text>
<path d="M22.6 391.1 h1.6 M184.3 391.1 h-1.6" stroke="#7f7f7f" stroke-width="1"/>
<text transform="translate(21 394) scale(0.92 1)" font-size="8.2" text-anchor="end" font-weight="normal" fill="#1e1e1e" >2</text>
<path d="M22.6 363.1 h1.6 M184.3 363.1 h-1.6" stroke="#7f7f7f" stroke-width="1"/>
<text transform="translate(21 366) scale(0.92 1)" font-size="8.2" text-anchor="end" font-weight="normal" fill="#1e1e1e" >4</text>
<path d="M22.6 335.1 h1.6 M184.3 335.1 h-1.6" stroke="#7f7f7f" stroke-width="1"/>
<text transform="translate(21 338) scale(0.92 1)" font-size="8.2" text-anchor="end" font-weight="normal" fill="#1e1e1e" >6</text>
<text x="22.4" y="332.6" font-size="7.6" fill="#1e1e1e" letter-spacing="0.15">x 10<tspan font-size="5.4" dy="-4.0" letter-spacing="0">-10</tspan></text>
<path d="M22.8 419.1 L23.1 395 L24.45 357.22 L25.81 351.42 L27.16 349.51 L28.52 349.32 L29.87 349.5 L31.23 350.45 L32.58 351.4 L33.94 352.35 L35.29 353.16 L36.65 353.87 L38 354.5 L39.36 355.02 L40.71 355.43 L42.06 355.81 L43.42 356.15 L44.77 356.46 L46.13 356.74 L47.48 356.99 L48.84 357.2 L50.19 357.39 L51.55 357.57 L52.9 357.72 L54.26 357.86 L55.61 357.99 L56.97 358.11 L58.32 358.22 L59.67 358.32 L61.03 358.41 L62.38 358.5 L63.74 358.58 L65.09 358.66 L66.45 358.74 L67.8 358.81 L69.16 358.87 L70.51 358.94 L71.87 359 L73.22 359.07 L74.58 359.13 L75.93 359.2 L77.28 359.26 L78.64 359.33 L79.99 359.4 L81.35 359.47 L82.7 359.54 L84.06 359.62 L85.41 359.69 L86.77 359.76 L88.12 359.83 L89.48 359.9 L90.83 359.97 L92.19 360.05 L93.54 360.12 L94.89 360.19 L96.25 360.26 L97.6 360.33 L98.96 360.4 L100.31 360.48 L101.67 360.55 L103.02 360.62 L104.38 360.69 L105.73 360.76 L107.09 360.83 L108.44 360.9 L109.8 360.97 L111.15 361.04 L112.51 361.11 L113.86 361.18 L115.21 361.25 L116.57 361.32 L117.92 361.39 L119.28 361.46 L120.63 361.53 L121.99 361.6 L123.34 361.67 L124.7 361.74 L126.05 361.81 L127.41 361.88 L128.76 361.95 L130.12 362.02 L131.47 362.08 L132.82 362.15 L134.18 362.22 L135.53 362.29 L136.89 362.36 L138.24 362.43 L139.6 362.5 L140.95 362.56 L142.31 362.63 L143.66 362.7 L145.02 362.77 L146.37 362.84 L147.73 362.9 L149.08 362.97 L150.43 363.04 L151.79 363.11 L153.14 363.17 L154.5 363.24 L155.85 363.31 L157.21 363.38 L158.56 363.44 L159.92 363.51 L161.27 363.58 L162.63 363.64 L163.98 363.71 L165.34 363.78 L166.69 363.84 L168.04 363.91 L169.4 363.98 L170.75 364.04 L172.11 364.11 L173.46 364.18 L174.82 364.24 L176.17 364.31 L177.53 364.37 L178.88 364.44 L180.24 364.5 L181.59 364.57 L182.95 364.63 L184.3 364.7" fill="none" stroke="#ff4a4a" stroke-width="1.3" stroke-dasharray="0.9 1.35"/>
<rect x="82.2" y="337.5" width="41.9" height="10.9" fill="#fff" stroke="#7f7f7f" stroke-width="1"/>
<path d="M84.8 342.95 L99.5 342.95" fill="none" stroke="#ff4a4a" stroke-width="1.3" stroke-dasharray="0.9 1.35"/>
<text x="101.1" y="345.75" font-size="8.0" text-anchor="start" font-weight="normal" fill="#1e1e1e" >ECCC</text>
<text x="0" y="0" font-size="7.5" text-anchor="middle" fill="#1e1e1e" transform="translate(12.6 377.4) rotate(-90)">(K)</text>
<text x="0.6" y="411.5" font-size="7.5" text-anchor="start" font-weight="bold" fill="#1e1e1e" >(g)</text>
<rect x="22.6" y="442.1" width="161.7" height="84" fill="none" stroke="#7f7f7f" stroke-width="1"/>
<path d="M22.6 526.1 v-1.6 M22.6 442.1 v1.6" stroke="#7f7f7f" stroke-width="1"/>
<text transform="translate(23.1 535.1) scale(0.92 1)" font-size="8.2" text-anchor="middle" font-weight="normal" fill="#1e1e1e" >0</text>
<path d="M54.94 526.1 v-1.6 M54.94 442.1 v1.6" stroke="#7f7f7f" stroke-width="1"/>
<text transform="translate(55.44 535.1) scale(0.92 1)" font-size="8.2" text-anchor="middle" font-weight="normal" fill="#1e1e1e" >100</text>
<path d="M87.28 526.1 v-1.6 M87.28 442.1 v1.6" stroke="#7f7f7f" stroke-width="1"/>
<text transform="translate(87.78 535.1) scale(0.92 1)" font-size="8.2" text-anchor="middle" font-weight="normal" fill="#1e1e1e" >200</text>
<path d="M119.62 526.1 v-1.6 M119.62 442.1 v1.6" stroke="#7f7f7f" stroke-width="1"/>
<text transform="translate(120.12 535.1) scale(0.92 1)" font-size="8.2" text-anchor="middle" font-weight="normal" fill="#1e1e1e" >300</text>
<path d="M151.96 526.1 v-1.6 M151.96 442.1 v1.6" stroke="#7f7f7f" stroke-width="1"/>
<text transform="translate(152.46 535.1) scale(0.92 1)" font-size="8.2" text-anchor="middle" font-weight="normal" fill="#1e1e1e" >400</text>
<path d="M184.3 526.1 v-1.6 M184.3 442.1 v1.6" stroke="#7f7f7f" stroke-width="1"/>
<text transform="translate(184.8 535.1) scale(0.92 1)" font-size="8.2" text-anchor="middle" font-weight="normal" fill="#1e1e1e" >500</text>
<path d="M22.6 526.1 h1.6 M184.3 526.1 h-1.6" stroke="#7f7f7f" stroke-width="1"/>
<text transform="translate(21 529) scale(0.92 1)" font-size="8.2" text-anchor="end" font-weight="normal" fill="#1e1e1e" >0</text>
<path d="M22.6 498.1 h1.6 M184.3 498.1 h-1.6" stroke="#7f7f7f" stroke-width="1"/>
<text transform="translate(21 501) scale(0.92 1)" font-size="8.2" text-anchor="end" font-weight="normal" fill="#1e1e1e" >1</text>
<path d="M22.6 470.1 h1.6 M184.3 470.1 h-1.6" stroke="#7f7f7f" stroke-width="1"/>
<text transform="translate(21 473) scale(0.92 1)" font-size="8.2" text-anchor="end" font-weight="normal" fill="#1e1e1e" >2</text>
<path d="M22.6 442.1 h1.6 M184.3 442.1 h-1.6" stroke="#7f7f7f" stroke-width="1"/>
<text transform="translate(21 445) scale(0.92 1)" font-size="8.2" text-anchor="end" font-weight="normal" fill="#1e1e1e" >3</text>
<text x="22.4" y="439.6" font-size="7.6" fill="#1e1e1e" letter-spacing="0.15">x 10<tspan font-size="5.4" dy="-4.0" letter-spacing="0">-5</tspan></text>
<text x="107.45" y="541.9" font-size="8.2" text-anchor="middle" font-weight="normal" fill="#1e1e1e" >Years after emission</text>
<path d="M22.8 526.1 L23 512.6 L24.36 501.77 L25.71 497.65 L27.07 494.99 L28.42 493.25 L29.78 491.96 L31.13 490.91 L32.49 490 L33.84 489.21 L35.2 488.5 L36.55 487.84 L37.91 487.25 L39.27 486.72 L40.62 486.18 L41.98 485.61 L43.33 485.02 L44.69 484.42 L46.04 483.83 L47.4 483.27 L48.75 482.71 L50.11 482.17 L51.46 481.65 L52.82 481.18 L54.18 480.74 L55.53 480.32 L56.89 479.91 L58.24 479.51 L59.6 479.12 L60.95 478.73 L62.31 478.34 L63.66 477.96 L65.02 477.59 L66.37 477.22 L67.73 476.85 L69.09 476.49 L70.44 476.14 L71.8 475.79 L73.15 475.45 L74.51 475.12 L75.86 474.79 L77.22 474.47 L78.57 474.15 L79.93 473.84 L81.28 473.53 L82.64 473.23 L84 472.93 L85.35 472.63 L86.71 472.33 L88.06 472.04 L89.42 471.75 L90.77 471.46 L92.13 471.18 L93.48 470.89 L94.84 470.61 L96.19 470.33 L97.55 470.04 L98.91 469.76 L100.26 469.48 L101.62 469.2 L102.97 468.91 L104.33 468.63 L105.68 468.34 L107.04 468.06 L108.39 467.77 L109.75 467.49 L111.11 467.21 L112.46 466.93 L113.82 466.65 L115.17 466.37 L116.53 466.09 L117.88 465.81 L119.24 465.54 L120.59 465.26 L121.95 464.99 L123.3 464.71 L124.66 464.44 L126.02 464.17 L127.37 463.9 L128.73 463.63 L130.08 463.36 L131.44 463.09 L132.79 462.83 L134.15 462.56 L135.5 462.3 L136.86 462.04 L138.21 461.78 L139.57 461.53 L140.93 461.27 L142.28 461.02 L143.64 460.76 L144.99 460.51 L146.35 460.26 L147.7 460.01 L149.06 459.75 L150.41 459.5 L151.77 459.25 L153.12 458.99 L154.48 458.74 L155.84 458.48 L157.19 458.22 L158.55 457.96 L159.9 457.7 L161.26 457.43 L162.61 457.17 L163.97 456.9 L165.32 456.63 L166.68 456.36 L168.03 456.1 L169.39 455.83 L170.75 455.55 L172.1 455.28 L173.46 455.01 L174.81 454.74 L176.17 454.46 L177.52 454.19 L178.88 453.91 L180.23 453.63 L181.59 453.36 L182.94 453.08 L184.3 452.8" fill="none" stroke="#000" stroke-width="1.6" stroke-linejoin="round"/>
<path d="M22.8 526.1 L23 512.6 L24.36 501.39 L25.71 497.33 L27.07 494.95 L28.42 492.86 L29.78 491.08 L31.13 489.54 L32.49 488.17 L33.84 486.96 L35.2 485.87 L36.55 484.88 L37.91 483.99 L39.27 483.21 L40.62 482.54 L41.98 481.93 L43.33 481.37 L44.69 480.84 L46.04 480.32 L47.4 479.78 L48.75 479.25 L50.11 478.72 L51.46 478.22 L52.82 477.76 L54.18 477.35 L55.53 476.99 L56.89 476.65 L58.24 476.35 L59.6 476.08 L60.95 475.83 L62.31 475.59 L63.66 475.36 L65.02 475.14 L66.37 474.92 L67.73 474.72 L69.09 474.53 L70.44 474.35 L71.8 474.18 L73.15 474.01 L74.51 473.85 L75.86 473.71 L77.22 473.56 L78.57 473.41 L79.93 473.27 L81.28 473.12 L82.64 472.98 L84 472.84 L85.35 472.71 L86.71 472.58 L88.06 472.45 L89.42 472.33 L90.77 472.21 L92.13 472.1 L93.48 471.99 L94.84 471.89 L96.19 471.79 L97.55 471.7 L98.91 471.62 L100.26 471.55 L101.62 471.48 L102.97 471.42 L104.33 471.37 L105.68 471.32 L107.04 471.27 L108.39 471.22 L109.75 471.17 L111.11 471.12 L112.46 471.07 L113.82 471.03 L115.17 470.99 L116.53 470.95 L117.88 470.91 L119.24 470.87 L120.59 470.84 L121.95 470.81 L123.3 470.78 L124.66 470.76 L126.02 470.74 L127.37 470.72 L128.73 470.71 L130.08 470.7 L131.44 470.7 L132.79 470.7 L134.15 470.7 L135.5 470.71 L136.86 470.72 L138.21 470.73 L139.57 470.75 L140.93 470.77 L142.28 470.79 L143.64 470.81 L144.99 470.83 L146.35 470.86 L147.7 470.89 L149.06 470.91 L150.41 470.95 L151.77 470.98 L153.12 471.01 L154.48 471.04 L155.84 471.08 L157.19 471.11 L158.55 471.15 L159.9 471.19 L161.26 471.22 L162.61 471.27 L163.97 471.32 L165.32 471.37 L166.68 471.43 L168.03 471.49 L169.39 471.56 L170.75 471.63 L172.1 471.7 L173.46 471.78 L174.81 471.86 L176.17 471.95 L177.52 472.04 L178.88 472.12 L180.23 472.22 L181.59 472.31 L182.94 472.4 L184.3 472.5" fill="none" stroke="#ff4a4a" stroke-width="1.3" stroke-dasharray="0.9 1.35"/>
<path d="M22.8 526.1 L23 512.6 L24.36 502 L25.71 497.73 L27.07 494.7 L28.42 492.97 L29.78 491.84 L31.13 490.99 L32.49 490.34 L33.84 489.81 L35.2 489.36 L36.55 488.92 L37.91 488.5 L39.27 488.12 L40.62 487.76 L41.98 487.45 L43.33 487.15 L44.69 486.87 L46.04 486.62 L47.4 486.39 L48.75 486.19 L50.11 486.02 L51.46 485.86 L52.82 485.71 L54.18 485.57 L55.53 485.44 L56.89 485.33 L58.24 485.22 L59.6 485.13 L60.95 485.04 L62.31 484.96 L63.66 484.88 L65.02 484.8 L66.37 484.72 L67.73 484.65 L69.09 484.58 L70.44 484.52 L71.8 484.46 L73.15 484.41 L74.51 484.35 L75.86 484.31 L77.22 484.27 L78.57 484.23 L79.93 484.2 L81.28 484.17 L82.64 484.15 L84 484.12 L85.35 484.1 L86.71 484.07 L88.06 484.05 L89.42 484.03 L90.77 484 L92.13 483.99 L93.48 483.97 L94.84 483.95 L96.19 483.94 L97.55 483.93 L98.91 483.92 L100.26 483.91 L101.62 483.9 L102.97 483.9 L104.33 483.9 L105.68 483.9 L107.04 483.9 L108.39 483.9 L109.75 483.91 L111.11 483.91 L112.46 483.91 L113.82 483.92 L115.17 483.92 L116.53 483.93 L117.88 483.93 L119.24 483.94 L120.59 483.95 L121.95 483.95 L123.3 483.96 L124.66 483.97 L126.02 483.97 L127.37 483.98 L128.73 483.98 L130.08 483.99 L131.44 484 L132.79 484 L134.15 484.01 L135.5 484.02 L136.86 484.02 L138.21 484.03 L139.57 484.04 L140.93 484.05 L142.28 484.05 L143.64 484.06 L144.99 484.07 L146.35 484.08 L147.7 484.09 L149.06 484.1 L150.41 484.11 L151.77 484.12 L153.12 484.13 L154.48 484.14 L155.84 484.15 L157.19 484.16 L158.55 484.17 L159.9 484.18 L161.26 484.19 L162.61 484.2 L163.97 484.21 L165.32 484.22 L166.68 484.23 L168.03 484.24 L169.39 484.26 L170.75 484.27 L172.1 484.28 L173.46 484.29 L174.81 484.31 L176.17 484.32 L177.52 484.33 L178.88 484.35 L180.23 484.36 L181.59 484.37 L182.94 484.39 L184.3 484.4" fill="none" stroke="#0000ff" stroke-width="1.7" stroke-dasharray="3.3 2.7"/>
<rect x="79.3" y="494.1" width="48.2" height="28.6" fill="#fff" stroke="#7f7f7f" stroke-width="1"/>
<path d="M81.9 499.7 L96.6 499.7" fill="none" stroke="#000" stroke-width="1.6" stroke-linejoin="round"/>
<text x="98.2" y="502.5" font-size="8.0" text-anchor="start" font-weight="normal" fill="#1e1e1e" >LFA</text>
<path d="M81.9 509 L96.6 509" fill="none" stroke="#ff4a4a" stroke-width="1.3" stroke-dasharray="0.9 1.35"/>
<text x="98.2" y="511.8" font-size="8.0" text-anchor="start" font-weight="normal" fill="#1e1e1e" >ECCC</text>
<path d="M81.9 518.2 L96.6 518.2" fill="none" stroke="#0000ff" stroke-width="1.7" stroke-dasharray="3.3 2.7"/>
<text x="98.2" y="521" font-size="8.0" text-anchor="start" font-weight="normal" fill="#1e1e1e" >No CCF</text>
<text x="0" y="0" font-size="7.5" text-anchor="middle" fill="#1e1e1e" transform="translate(12.5 484.2) rotate(-90)">(K)</text>
<text x="2" y="518.5" font-size="7.5" text-anchor="start" font-weight="bold" fill="#1e1e1e" >(i)</text>
<rect x="234.5" y="14.1" width="161.9" height="84" fill="none" stroke="#7f7f7f" stroke-width="1"/>
<path d="M234.5 98.1 v-1.6 M234.5 14.1 v1.6" stroke="#7f7f7f" stroke-width="1"/>
<text transform="translate(235 107.1) scale(0.92 1)" font-size="8.2" text-anchor="middle" font-weight="normal" fill="#1e1e1e" >0</text>
<path d="M266.88 98.1 v-1.6 M266.88 14.1 v1.6" stroke="#7f7f7f" stroke-width="1"/>
<text transform="translate(267.38 107.1) scale(0.92 1)" font-size="8.2" text-anchor="middle" font-weight="normal" fill="#1e1e1e" >100</text>
<path d="M299.26 98.1 v-1.6 M299.26 14.1 v1.6" stroke="#7f7f7f" stroke-width="1"/>
<text transform="translate(299.76 107.1) scale(0.92 1)" font-size="8.2" text-anchor="middle" font-weight="normal" fill="#1e1e1e" >200</text>
<path d="M331.64 98.1 v-1.6 M331.64 14.1 v1.6" stroke="#7f7f7f" stroke-width="1"/>
<text transform="translate(332.14 107.1) scale(0.92 1)" font-size="8.2" text-anchor="middle" font-weight="normal" fill="#1e1e1e" >300</text>
<path d="M364.02 98.1 v-1.6 M364.02 14.1 v1.6" stroke="#7f7f7f" stroke-width="1"/>
<text transform="translate(364.52 107.1) scale(0.92 1)" font-size="8.2" text-anchor="middle" font-weight="normal" fill="#1e1e1e" >400</text>
<path d="M396.4 98.1 v-1.6 M396.4 14.1 v1.6" stroke="#7f7f7f" stroke-width="1"/>
<text transform="translate(396.9 107.1) scale(0.92 1)" font-size="8.2" text-anchor="middle" font-weight="normal" fill="#1e1e1e" >500</text>
<path d="M234.5 98.1 h1.6 M396.4 98.1 h-1.6" stroke="#7f7f7f" stroke-width="1"/>
<text transform="translate(232.9 101) scale(0.92 1)" font-size="8.2" text-anchor="end" font-weight="normal" fill="#1e1e1e" >0</text>
<path d="M234.5 74.1 h1.6 M396.4 74.1 h-1.6" stroke="#7f7f7f" stroke-width="1"/>
<text transform="translate(232.9 77) scale(0.92 1)" font-size="8.2" text-anchor="end" font-weight="normal" fill="#1e1e1e" >2</text>
<path d="M234.5 50.1 h1.6 M396.4 50.1 h-1.6" stroke="#7f7f7f" stroke-width="1"/>
<text transform="translate(232.9 53) scale(0.92 1)" font-size="8.2" text-anchor="end" font-weight="normal" fill="#1e1e1e" >4</text>
<path d="M234.5 26.1 h1.6 M396.4 26.1 h-1.6" stroke="#7f7f7f" stroke-width="1"/>
<text transform="translate(232.9 29) scale(0.92 1)" font-size="8.2" text-anchor="end" font-weight="normal" fill="#1e1e1e" >6</text>
<text x="234.3" y="11.6" font-size="7.6" fill="#1e1e1e" letter-spacing="0.15">x 10<tspan font-size="5.4" dy="-4.0" letter-spacing="0">-5</tspan></text>
<path d="M234.5 50.8 L396.4 50.8" fill="none" stroke="#0000ff" stroke-width="1.7" stroke-dasharray="3.3 2.7"/>
<path d="M234.5 50.6 L235.86 49.34 L237.22 48.15 L238.58 47.08 L239.94 46.18 L241.3 45.52 L242.66 44.99 L244.02 44.53 L245.38 44.12 L246.74 43.76 L248.11 43.43 L249.47 43.12 L250.83 42.83 L252.19 42.53 L253.55 42.22 L254.91 41.93 L256.27 41.64 L257.63 41.37 L258.99 41.11 L260.35 40.87 L261.71 40.65 L263.07 40.45 L264.43 40.26 L265.79 40.09 L267.15 39.92 L268.51 39.76 L269.87 39.62 L271.23 39.48 L272.59 39.36 L273.95 39.25 L275.32 39.15 L276.68 39.06 L278.04 38.98 L279.4 38.9 L280.76 38.83 L282.12 38.76 L283.48 38.7 L284.84 38.64 L286.2 38.58 L287.56 38.52 L288.92 38.46 L290.28 38.41 L291.64 38.35 L293 38.3 L294.36 38.26 L295.72 38.22 L297.08 38.19 L298.44 38.17 L299.8 38.14 L301.16 38.11 L302.53 38.09 L303.89 38.06 L305.25 38.04 L306.61 38.02 L307.97 38 L309.33 37.98 L310.69 37.96 L312.05 37.95 L313.41 37.93 L314.77 37.92 L316.13 37.91 L317.49 37.9 L318.85 37.9 L320.21 37.9 L321.57 37.9 L322.93 37.9 L324.29 37.9 L325.65 37.9 L327.01 37.91 L328.37 37.91 L329.74 37.91 L331.1 37.91 L332.46 37.92 L333.82 37.92 L335.18 37.92 L336.54 37.93 L337.9 37.93 L339.26 37.93 L340.62 37.94 L341.98 37.94 L343.34 37.95 L344.7 37.95 L346.06 37.96 L347.42 37.96 L348.78 37.97 L350.14 37.97 L351.5 37.97 L352.86 37.98 L354.22 37.98 L355.58 37.99 L356.95 37.99 L358.31 38 L359.67 38 L361.03 38 L362.39 38.01 L363.75 38.01 L365.11 38.01 L366.47 38.02 L367.83 38.02 L369.19 38.02 L370.55 38.03 L371.91 38.03 L373.27 38.04 L374.63 38.04 L375.99 38.04 L377.35 38.05 L378.71 38.05 L380.07 38.05 L381.43 38.06 L382.79 38.06 L384.16 38.07 L385.52 38.07 L386.88 38.07 L388.24 38.08 L389.6 38.08 L390.96 38.08 L392.32 38.09 L393.68 38.09 L395.04 38.1 L396.4 38.1" fill="none" stroke="#ff4a4a" stroke-width="1.3" stroke-dasharray="0.9 1.35"/>
<path d="M234.5 50.6 L396.4 14.7" fill="none" stroke="#000" stroke-width="1.6" stroke-linejoin="round"/>
<rect x="346.1" y="66.3" width="48.2" height="29.2" fill="#fff" stroke="#7f7f7f" stroke-width="1"/>
<path d="M348.7 71.9 L363.4 71.9" fill="none" stroke="#000" stroke-width="1.6" stroke-linejoin="round"/>
<text x="365" y="74.7" font-size="8.0" text-anchor="start" font-weight="normal" fill="#1e1e1e" >LFA</text>
<path d="M348.7 81.2 L363.4 81.2" fill="none" stroke="#ff4a4a" stroke-width="1.3" stroke-dasharray="0.9 1.35"/>
<text x="365" y="84" font-size="8.0" text-anchor="start" font-weight="normal" fill="#1e1e1e" >ECCC</text>
<path d="M348.7 90.4 L363.4 90.4" fill="none" stroke="#0000ff" stroke-width="1.7" stroke-dasharray="3.3 2.7"/>
<text x="365" y="93.2" font-size="8.0" text-anchor="start" font-weight="normal" fill="#1e1e1e" >No CCF</text>
<text x="0" y="0" font-size="7.9" text-anchor="middle" fill="#1e1e1e" transform="translate(223.8 56.4) rotate(-90)">(W/m<tspan font-size="5.6" dy="-3.6">2</tspan><tspan dy="3.6" font-size="9">•</tspan>yr)</text>
<text x="212.1" y="90.5" font-size="7.5" text-anchor="start" font-weight="bold" fill="#1e1e1e" >(b)</text>
<rect x="191.8" y="6.3" width="35.4" height="15.2" rx="0.8" fill="#fff" stroke="#2a2a2a" stroke-width="1.35"/>
<text x="209.5" y="14.9" font-size="7.5" text-anchor="middle" font-weight="bold" fill="#1e1e1e" >BC</text>
<rect x="234.5" y="121.1" width="161.9" height="84" fill="none" stroke="#7f7f7f" stroke-width="1"/>
<path d="M234.5 205.1 v-1.6 M234.5 121.1 v1.6" stroke="#7f7f7f" stroke-width="1"/>
<text transform="translate(235 214.1) scale(0.92 1)" font-size="8.2" text-anchor="middle" font-weight="normal" fill="#1e1e1e" >0</text>
<path d="M266.88 205.1 v-1.6 M266.88 121.1 v1.6" stroke="#7f7f7f" stroke-width="1"/>
<text transform="translate(267.38 214.1) scale(0.92 1)" font-size="8.2" text-anchor="middle" font-weight="normal" fill="#1e1e1e" >100</text>
<path d="M299.26 205.1 v-1.6 M299.26 121.1 v1.6" stroke="#7f7f7f" stroke-width="1"/>
<text transform="translate(299.76 214.1) scale(0.92 1)" font-size="8.2" text-anchor="middle" font-weight="normal" fill="#1e1e1e" >200</text>
<path d="M331.64 205.1 v-1.6 M331.64 121.1 v1.6" stroke="#7f7f7f" stroke-width="1"/>
<text transform="translate(332.14 214.1) scale(0.92 1)" font-size="8.2" text-anchor="middle" font-weight="normal" fill="#1e1e1e" >300</text>
<path d="M364.02 205.1 v-1.6 M364.02 121.1 v1.6" stroke="#7f7f7f" stroke-width="1"/>
<text transform="translate(364.52 214.1) scale(0.92 1)" font-size="8.2" text-anchor="middle" font-weight="normal" fill="#1e1e1e" >400</text>
<path d="M396.4 205.1 v-1.6 M396.4 121.1 v1.6" stroke="#7f7f7f" stroke-width="1"/>
<text transform="translate(396.9 214.1) scale(0.92 1)" font-size="8.2" text-anchor="middle" font-weight="normal" fill="#1e1e1e" >500</text>
<path d="M234.5 205.1 h1.6 M396.4 205.1 h-1.6" stroke="#7f7f7f" stroke-width="1"/>
<text transform="translate(232.9 208) scale(0.92 1)" font-size="8.2" text-anchor="end" font-weight="normal" fill="#1e1e1e" >0</text>
<path d="M234.5 184.1 h1.6 M396.4 184.1 h-1.6" stroke="#7f7f7f" stroke-width="1"/>
<text transform="translate(232.9 187) scale(0.92 1)" font-size="8.2" text-anchor="end" font-weight="normal" fill="#1e1e1e" >1</text>
<path d="M234.5 163.1 h1.6 M396.4 163.1 h-1.6" stroke="#7f7f7f" stroke-width="1"/>
<text transform="translate(232.9 166) scale(0.92 1)" font-size="8.2" text-anchor="end" font-weight="normal" fill="#1e1e1e" >2</text>
<path d="M234.5 142.1 h1.6 M396.4 142.1 h-1.6" stroke="#7f7f7f" stroke-width="1"/>
<text transform="translate(232.9 145) scale(0.92 1)" font-size="8.2" text-anchor="end" font-weight="normal" fill="#1e1e1e" >3</text>
<path d="M234.5 121.1 h1.6 M396.4 121.1 h-1.6" stroke="#7f7f7f" stroke-width="1"/>
<text transform="translate(232.9 124) scale(0.92 1)" font-size="8.2" text-anchor="end" font-weight="normal" fill="#1e1e1e" >4</text>
<text x="234.3" y="118.6" font-size="7.6" fill="#1e1e1e" letter-spacing="0.15">x 10<tspan font-size="5.4" dy="-4.0" letter-spacing="0">-6</tspan></text>
<path d="M234.5 205.1 L235.86 184.75 L237.22 176.91 L238.58 170.78 L239.94 166.29 L241.3 162.86 L242.66 160.59 L244.02 159 L245.38 157.77 L246.74 156.74 L248.11 155.83 L249.47 155.07 L250.83 154.49 L252.19 154.04 L253.55 153.64 L254.91 153.3 L256.27 152.98 L257.63 152.7 L258.99 152.44 L260.35 152.18 L261.71 151.92 L263.07 151.65 L264.43 151.36 L265.79 151.05 L267.15 150.74 L268.51 150.44 L269.87 150.13 L271.23 149.82 L272.59 149.52 L273.95 149.21 L275.32 148.91 L276.68 148.6 L278.04 148.29 L279.4 147.99 L280.76 147.68 L282.12 147.37 L283.48 147.06 L284.84 146.76 L286.2 146.45 L287.56 146.14 L288.92 145.83 L290.28 145.52 L291.64 145.21 L293 144.9 L294.36 144.58 L295.72 144.27 L297.08 143.96 L298.44 143.65 L299.8 143.34 L301.16 143.03 L302.53 142.73 L303.89 142.42 L305.25 142.11 L306.61 141.8 L307.97 141.49 L309.33 141.18 L310.69 140.87 L312.05 140.56 L313.41 140.25 L314.77 139.94 L316.13 139.63 L317.49 139.32 L318.85 139.01 L320.21 138.7 L321.57 138.39 L322.93 138.08 L324.29 137.77 L325.65 137.46 L327.01 137.16 L328.37 136.85 L329.74 136.54 L331.1 136.23 L332.46 135.92 L333.82 135.61 L335.18 135.3 L336.54 134.99 L337.9 134.68 L339.26 134.37 L340.62 134.06 L341.98 133.75 L343.34 133.44 L344.7 133.13 L346.06 132.83 L347.42 132.52 L348.78 132.21 L350.14 131.9 L351.5 131.59 L352.86 131.28 L354.22 130.97 L355.58 130.66 L356.95 130.35 L358.31 130.04 L359.67 129.73 L361.03 129.43 L362.39 129.12 L363.75 128.81 L365.11 128.5 L366.47 128.19 L367.83 127.88 L369.19 127.57 L370.55 127.26 L371.91 126.95 L373.27 126.65 L374.63 126.34 L375.99 126.03 L377.35 125.72 L378.71 125.41 L380.07 125.1 L381.43 124.79 L382.79 124.49 L384.16 124.18 L385.52 123.87 L386.88 123.56 L388.24 123.25 L389.6 122.94 L390.96 122.63 L392.32 122.33 L393.68 122.02 L395.04 121.71 L396.4 121.4" fill="none" stroke="#000" stroke-width="1.6" stroke-linejoin="round"/>
<path d="M234.5 205.1 L235.86 184.18 L237.22 175.86 L238.58 168.96 L239.94 164.08 L241.3 160.58 L242.66 157.73 L244.02 155.64 L245.38 154.11 L246.74 152.95 L248.11 152.17 L249.47 151.52 L250.83 150.97 L252.19 150.49 L253.55 150.07 L254.91 149.69 L256.27 149.33 L257.63 148.99 L258.99 148.66 L260.35 148.37 L261.71 148.1 L263.07 147.85 L264.43 147.64 L265.79 147.45 L267.15 147.27 L268.51 147.1 L269.87 146.94 L271.23 146.79 L272.59 146.64 L273.95 146.51 L275.32 146.38 L276.68 146.25 L278.04 146.13 L279.4 146.02 L280.76 145.9 L282.12 145.79 L283.48 145.68 L284.84 145.56 L286.2 145.45 L287.56 145.34 L288.92 145.23 L290.28 145.12 L291.64 145.02 L293 144.93 L294.36 144.84 L295.72 144.77 L297.08 144.7 L298.44 144.65 L299.8 144.6 L301.16 144.57 L302.53 144.54 L303.89 144.51 L305.25 144.49 L306.61 144.46 L307.97 144.43 L309.33 144.41 L310.69 144.39 L312.05 144.37 L313.41 144.35 L314.77 144.33 L316.13 144.31 L317.49 144.29 L318.85 144.28 L320.21 144.26 L321.57 144.25 L322.93 144.24 L324.29 144.23 L325.65 144.22 L327.01 144.21 L328.37 144.21 L329.74 144.2 L331.1 144.2 L332.46 144.19 L333.82 144.19 L335.18 144.19 L336.54 144.18 L337.9 144.18 L339.26 144.17 L340.62 144.17 L341.98 144.17 L343.34 144.16 L344.7 144.16 L346.06 144.16 L347.42 144.15 L348.78 144.15 L350.14 144.15 L351.5 144.15 L352.86 144.14 L354.22 144.14 L355.58 144.14 L356.95 144.14 L358.31 144.13 L359.67 144.13 L361.03 144.13 L362.39 144.13 L363.75 144.12 L365.11 144.12 L366.47 144.12 L367.83 144.12 L369.19 144.12 L370.55 144.12 L371.91 144.11 L373.27 144.11 L374.63 144.11 L375.99 144.11 L377.35 144.11 L378.71 144.11 L380.07 144.11 L381.43 144.11 L382.79 144.1 L384.16 144.1 L385.52 144.1 L386.88 144.1 L388.24 144.1 L389.6 144.1 L390.96 144.1 L392.32 144.1 L393.68 144.1 L395.04 144.1 L396.4 144.1" fill="none" stroke="#ff4a4a" stroke-width="1.3" stroke-dasharray="0.9 1.35"/>
<path d="M234.5 205.1 L235.86 184.71 L237.22 176.99 L238.58 171.29 L239.94 167.02 L241.3 163.61 L242.66 161.43 L244.02 159.86 L245.38 158.88 L246.74 158.45 L248.11 158.12 L249.47 157.89 L250.83 157.8 L252.19 157.77 L253.55 157.75 L254.91 157.73 L256.27 157.72 L257.63 157.71 L258.99 157.7 L260.35 157.7 L261.71 157.7 L263.07 157.7 L264.43 157.7 L265.79 157.7 L267.15 157.7 L268.51 157.7 L269.87 157.7 L271.23 157.7 L272.59 157.7 L273.95 157.7 L275.32 157.7 L276.68 157.7 L278.04 157.7 L279.4 157.7 L280.76 157.7 L282.12 157.7 L283.48 157.7 L284.84 157.7 L286.2 157.7 L287.56 157.7 L288.92 157.7 L290.28 157.7 L291.64 157.7 L293 157.7 L294.36 157.7 L295.72 157.7 L297.08 157.7 L298.44 157.7 L299.8 157.7 L301.16 157.71 L302.53 157.71 L303.89 157.71 L305.25 157.71 L306.61 157.71 L307.97 157.71 L309.33 157.71 L310.69 157.71 L312.05 157.71 L313.41 157.71 L314.77 157.71 L316.13 157.71 L317.49 157.71 L318.85 157.72 L320.21 157.72 L321.57 157.72 L322.93 157.72 L324.29 157.72 L325.65 157.72 L327.01 157.72 L328.37 157.73 L329.74 157.73 L331.1 157.73 L332.46 157.73 L333.82 157.73 L335.18 157.73 L336.54 157.74 L337.9 157.74 L339.26 157.74 L340.62 157.74 L341.98 157.74 L343.34 157.75 L344.7 157.75 L346.06 157.75 L347.42 157.75 L348.78 157.76 L350.14 157.76 L351.5 157.76 L352.86 157.76 L354.22 157.77 L355.58 157.77 L356.95 157.77 L358.31 157.77 L359.67 157.78 L361.03 157.78 L362.39 157.78 L363.75 157.79 L365.11 157.79 L366.47 157.8 L367.83 157.8 L369.19 157.8 L370.55 157.81 L371.91 157.81 L373.27 157.81 L374.63 157.82 L375.99 157.82 L377.35 157.83 L378.71 157.83 L380.07 157.84 L381.43 157.84 L382.79 157.85 L384.16 157.85 L385.52 157.86 L386.88 157.86 L388.24 157.87 L389.6 157.87 L390.96 157.88 L392.32 157.88 L393.68 157.89 L395.04 157.89 L396.4 157.9" fill="none" stroke="#0000ff" stroke-width="1.7" stroke-dasharray="3.3 2.7"/>
<rect x="345.9" y="172.8" width="48.2" height="29.2" fill="#fff" stroke="#7f7f7f" stroke-width="1"/>
<path d="M348.5 178.4 L363.2 178.4" fill="none" stroke="#000" stroke-width="1.6" stroke-linejoin="round"/>
<text x="364.8" y="181.2" font-size="8.0" text-anchor="start" font-weight="normal" fill="#1e1e1e" >LFA</text>
<path d="M348.5 187.7 L363.2 187.7" fill="none" stroke="#ff4a4a" stroke-width="1.3" stroke-dasharray="0.9 1.35"/>
<text x="364.8" y="190.5" font-size="8.0" text-anchor="start" font-weight="normal" fill="#1e1e1e" >ECCC</text>
<path d="M348.5 196.9 L363.2 196.9" fill="none" stroke="#0000ff" stroke-width="1.7" stroke-dasharray="3.3 2.7"/>
<text x="364.8" y="199.7" font-size="8.0" text-anchor="start" font-weight="normal" fill="#1e1e1e" >No CCF</text>
<text x="0" y="0" font-size="7.9" text-anchor="middle" fill="#1e1e1e" transform="translate(223.8 163.4) rotate(-90)">(W/m<tspan font-size="5.6" dy="-3.6">2</tspan><tspan dy="3.6" font-size="9">•</tspan>yr)</text>
<text x="212.3" y="197.8" font-size="7.5" text-anchor="start" font-weight="bold" fill="#1e1e1e" >(d)</text>
<rect x="191.8" y="113.3" width="35.4" height="15.2" rx="0.8" fill="#fff" stroke="#2a2a2a" stroke-width="1.35"/>
<text x="209.5" y="121.9" font-size="7.5" font-weight="bold" text-anchor="middle" fill="#1e1e1e">CH<tspan font-size="5" dy="4" dx="0.4">4</tspan><tspan dy="-4" dx="0.2"></tspan></text>
<rect x="234.5" y="228.1" width="161.9" height="84" fill="none" stroke="#7f7f7f" stroke-width="1"/>
<path d="M234.5 312.1 v-1.6 M234.5 228.1 v1.6" stroke="#7f7f7f" stroke-width="1"/>
<text transform="translate(235 321.1) scale(0.92 1)" font-size="8.2" text-anchor="middle" font-weight="normal" fill="#1e1e1e" >0</text>
<path d="M266.88 312.1 v-1.6 M266.88 228.1 v1.6" stroke="#7f7f7f" stroke-width="1"/>
<text transform="translate(267.38 321.1) scale(0.92 1)" font-size="8.2" text-anchor="middle" font-weight="normal" fill="#1e1e1e" >100</text>
<path d="M299.26 312.1 v-1.6 M299.26 228.1 v1.6" stroke="#7f7f7f" stroke-width="1"/>
<text transform="translate(299.76 321.1) scale(0.92 1)" font-size="8.2" text-anchor="middle" font-weight="normal" fill="#1e1e1e" >200</text>
<path d="M331.64 312.1 v-1.6 M331.64 228.1 v1.6" stroke="#7f7f7f" stroke-width="1"/>
<text transform="translate(332.14 321.1) scale(0.92 1)" font-size="8.2" text-anchor="middle" font-weight="normal" fill="#1e1e1e" >300</text>
<path d="M364.02 312.1 v-1.6 M364.02 228.1 v1.6" stroke="#7f7f7f" stroke-width="1"/>
<text transform="translate(364.52 321.1) scale(0.92 1)" font-size="8.2" text-anchor="middle" font-weight="normal" fill="#1e1e1e" >400</text>
<path d="M396.4 312.1 v-1.6 M396.4 228.1 v1.6" stroke="#7f7f7f" stroke-width="1"/>
<text transform="translate(396.9 321.1) scale(0.92 1)" font-size="8.2" text-anchor="middle" font-weight="normal" fill="#1e1e1e" >500</text>
<path d="M234.5 312.1 h1.6 M396.4 312.1 h-1.6" stroke="#7f7f7f" stroke-width="1"/>
<text transform="translate(232.9 315) scale(0.92 1)" font-size="8.2" text-anchor="end" font-weight="normal" fill="#1e1e1e" >0</text>
<path d="M234.5 291.1 h1.6 M396.4 291.1 h-1.6" stroke="#7f7f7f" stroke-width="1"/>
<text transform="translate(232.9 294) scale(0.92 1)" font-size="8.2" text-anchor="end" font-weight="normal" fill="#1e1e1e" >2</text>
<path d="M234.5 270.1 h1.6 M396.4 270.1 h-1.6" stroke="#7f7f7f" stroke-width="1"/>
<text transform="translate(232.9 273) scale(0.92 1)" font-size="8.2" text-anchor="end" font-weight="normal" fill="#1e1e1e" >4</text>
<path d="M234.5 249.1 h1.6 M396.4 249.1 h-1.6" stroke="#7f7f7f" stroke-width="1"/>
<text transform="translate(232.9 252) scale(0.92 1)" font-size="8.2" text-anchor="end" font-weight="normal" fill="#1e1e1e" >6</text>
<path d="M234.5 228.1 h1.6 M396.4 228.1 h-1.6" stroke="#7f7f7f" stroke-width="1"/>
<text transform="translate(232.9 231) scale(0.92 1)" font-size="8.2" text-anchor="end" font-weight="normal" fill="#1e1e1e" >8</text>
<text x="234.3" y="225.6" font-size="7.6" fill="#1e1e1e" letter-spacing="0.15">x 10<tspan font-size="5.4" dy="-4.0" letter-spacing="0">-5</tspan></text>
<path d="M234.5 312.1 L235.5 310.83 L236.5 309.59 L237.5 308.38 L238.5 307.21 L239.5 306.07 L240.5 304.98 L241.5 303.93 L242.5 302.92 L243.5 301.94 L244.5 300.96 L245.5 299.99 L246.5 299 L247.5 298 L248.5 297 L249.5 296 L250.5 295.03 L251.5 294.07 L252.5 293.13 L253.5 292.21 L254.5 291.3 L255.5 290.4 L256.5 289.51 L257.5 288.63 L258.5 287.77 L259.5 286.92 L260.5 286.1 L261.5 285.29 L262.5 284.51 L263.5 283.74 L264.5 283 L265.5 282.28 L266.5 281.57 L267.5 280.89 L268.5 280.23 L269.5 279.59 L270.5 278.97 L271.5 278.36 L272.5 277.77 L273.5 277.2 L274.5 276.64 L275.5 276.09 L276.5 275.55 L277.5 275.02 L278.5 274.5 L279.5 273.99 L280.5 273.47 L281.5 272.96 L282.5 272.45 L283.5 271.93 L284.5 271.41 L285.5 270.89 L286.5 270.36 L287.5 269.83 L288.5 269.3 L289.5 268.77 L290.5 268.23 L291.5 267.7 L292.5 267.17 L293.5 266.64 L294.5 266.12 L295.5 265.61 L296.5 265.11 L297.5 264.61 L298.5 264.11 L299.5 263.63 L300.5 263.15 L301.5 262.68 L302.5 262.22 L303.5 261.76 L304.5 261.31 L305.5 260.87 L306.5 260.43 L307.5 260 L308.5 259.58 L309.5 259.16 L310.5 258.75 L311.5 258.34 L312.5 257.94 L313.5 257.54 L314.5 257.15 L315.5 256.76 L316.5 256.38 L317.5 256 L318.5 255.63 L319.5 255.26 L320.5 254.9 L321.5 254.54 L322.5 254.18 L323.5 253.83 L324.5 253.48 L325.5 253.13 L326.5 252.79 L327.5 252.45 L328.5 252.11 L329.5 251.78 L330.5 251.45 L331.5 251.12 L332.5 250.8 L333.5 250.47 L334.5 250.15 L335.5 249.83 L336.5 249.51 L337.5 249.19 L338.5 248.88 L339.5 248.56 L340.5 248.24 L341.5 247.93 L342.5 247.61 L343.5 247.3 L344.5 246.99 L345.5 246.68 L346.5 246.37 L347.5 246.06 L348.5 245.76 L349.5 245.46 L350.5 245.16 L351.5 244.87 L352.5 244.58 L353.5 244.29 L354.5 244.01 L355.5 243.73 L356.5 243.46 L357.5 243.19 L358.5 242.93 L359.5 242.66 L360.5 242.41 L361.5 242.15 L362.5 241.9 L363.5 241.66 L364.5 241.41 L365.5 241.17 L366.5 240.94 L367.5 240.7 L368.5 240.47 L369.5 240.24 L370.5 240.01 L371.5 239.79 L372.5 239.57 L373.5 239.35 L374.5 239.13 L375.5 238.92 L376.5 238.71 L377.5 238.5 L378.5 238.29 L379.5 238.09 L380.5 237.89 L381.5 237.69 L382.5 237.5 L383.5 237.3 L384.5 237.11 L385.5 236.92 L386.5 236.74 L387.5 236.55 L388.5 236.37 L389.5 236.19 L390.5 236.01 L391.5 235.83 L392.5 235.66 L393.5 235.48 L394.5 235.31 L395.5 235.13 L396.4 234.96" fill="none" stroke="#000" stroke-width="1.6" stroke-linejoin="round"/>
<path d="M234.5 312.1 L235.5 310.77 L236.5 309.47 L237.5 308.21 L238.5 306.98 L239.5 305.8 L240.5 304.66 L241.5 303.58 L242.5 302.54 L243.5 301.52 L244.5 300.52 L245.5 299.52 L246.5 298.5 L247.5 297.46 L248.5 296.43 L249.5 295.4 L250.5 294.39 L251.5 293.4 L252.5 292.44 L253.5 291.48 L254.5 290.55 L255.5 289.62 L256.5 288.69 L257.5 287.78 L258.5 286.89 L259.5 286.02 L260.5 285.16 L261.5 284.31 L262.5 283.49 L263.5 282.68 L264.5 281.88 L265.5 281.11 L266.5 280.35 L267.5 279.6 L268.5 278.88 L269.5 278.17 L270.5 277.49 L271.5 276.82 L272.5 276.17 L273.5 275.55 L274.5 274.94 L275.5 274.36 L276.5 273.79 L277.5 273.23 L278.5 272.69 L279.5 272.16 L280.5 271.63 L281.5 271.11 L282.5 270.59 L283.5 270.06 L284.5 269.54 L285.5 269 L286.5 268.47 L287.5 267.93 L288.5 267.38 L289.5 266.84 L290.5 266.31 L291.5 265.78 L292.5 265.26 L293.5 264.76 L294.5 264.27 L295.5 263.8 L296.5 263.34 L297.5 262.9 L298.5 262.48 L299.5 262.08 L300.5 261.69 L301.5 261.31 L302.5 260.95 L303.5 260.6 L304.5 260.27 L305.5 259.95 L306.5 259.64 L307.5 259.34 L308.5 259.06 L309.5 258.78 L310.5 258.52 L311.5 258.26 L312.5 258.02 L313.5 257.78 L314.5 257.55 L315.5 257.34 L316.5 257.12 L317.5 256.92 L318.5 256.72 L319.5 256.53 L320.5 256.35 L321.5 256.18 L322.5 256.01 L323.5 255.85 L324.5 255.69 L325.5 255.54 L326.5 255.39 L327.5 255.25 L328.5 255.12 L329.5 254.99 L330.5 254.86 L331.5 254.74 L332.5 254.62 L333.5 254.51 L334.5 254.39 L335.5 254.28 L336.5 254.18 L337.5 254.07 L338.5 253.97 L339.5 253.87 L340.5 253.77 L341.5 253.67 L342.5 253.58 L343.5 253.49 L344.5 253.39 L345.5 253.3 L346.5 253.22 L347.5 253.13 L348.5 253.04 L349.5 252.96 L350.5 252.88 L351.5 252.8 L352.5 252.72 L353.5 252.64 L354.5 252.57 L355.5 252.49 L356.5 252.42 L357.5 252.35 L358.5 252.28 L359.5 252.21 L360.5 252.14 L361.5 252.08 L362.5 252.01 L363.5 251.95 L364.5 251.89 L365.5 251.83 L366.5 251.76 L367.5 251.7 L368.5 251.65 L369.5 251.59 L370.5 251.53 L371.5 251.47 L372.5 251.41 L373.5 251.36 L374.5 251.3 L375.5 251.24 L376.5 251.19 L377.5 251.13 L378.5 251.07 L379.5 251.02 L380.5 250.96 L381.5 250.91 L382.5 250.85 L383.5 250.8 L384.5 250.74 L385.5 250.68 L386.5 250.63 L387.5 250.58 L388.5 250.52 L389.5 250.47 L390.5 250.41 L391.5 250.36 L392.5 250.31 L393.5 250.25 L394.5 250.2 L395.5 250.15 L396.4 250.09" fill="none" stroke="#ff4a4a" stroke-width="1.3" stroke-dasharray="0.9 1.35"/>
<path d="M234.5 312.1 L235.5 310.91 L236.5 309.75 L237.5 308.62 L238.5 307.54 L239.5 306.5 L240.5 305.51 L241.5 304.57 L242.5 303.67 L243.5 302.8 L244.5 301.95 L245.5 301.09 L246.5 300.22 L247.5 299.32 L248.5 298.43 L249.5 297.56 L250.5 296.71 L251.5 295.89 L252.5 295.11 L253.5 294.36 L254.5 293.61 L255.5 292.86 L256.5 292.12 L257.5 291.38 L258.5 290.66 L259.5 289.95 L260.5 289.25 L261.5 288.56 L262.5 287.88 L263.5 287.22 L264.5 286.56 L265.5 285.92 L266.5 285.29 L267.5 284.68 L268.5 284.08 L269.5 283.5 L270.5 282.93 L271.5 282.38 L272.5 281.84 L273.5 281.32 L274.5 280.82 L275.5 280.33 L276.5 279.85 L277.5 279.39 L278.5 278.95 L279.5 278.51 L280.5 278.09 L281.5 277.68 L282.5 277.28 L283.5 276.89 L284.5 276.51 L285.5 276.14 L286.5 275.78 L287.5 275.43 L288.5 275.09 L289.5 274.76 L290.5 274.44 L291.5 274.13 L292.5 273.82 L293.5 273.53 L294.5 273.25 L295.5 272.98 L296.5 272.72 L297.5 272.47 L298.5 272.22 L299.5 271.99 L300.5 271.76 L301.5 271.54 L302.5 271.33 L303.5 271.12 L304.5 270.92 L305.5 270.72 L306.5 270.53 L307.5 270.34 L308.5 270.15 L309.5 269.97 L310.5 269.79 L311.5 269.61 L312.5 269.44 L313.5 269.27 L314.5 269.1 L315.5 268.94 L316.5 268.78 L317.5 268.63 L318.5 268.48 L319.5 268.33 L320.5 268.19 L321.5 268.05 L322.5 267.92 L323.5 267.8 L324.5 267.68 L325.5 267.56 L326.5 267.45 L327.5 267.35 L328.5 267.25 L329.5 267.15 L330.5 267.06 L331.5 266.97 L332.5 266.88 L333.5 266.8 L334.5 266.72 L335.5 266.64 L336.5 266.57 L337.5 266.5 L338.5 266.43 L339.5 266.36 L340.5 266.3 L341.5 266.24 L342.5 266.18 L343.5 266.12 L344.5 266.07 L345.5 266.01 L346.5 265.96 L347.5 265.91 L348.5 265.86 L349.5 265.82 L350.5 265.77 L351.5 265.72 L352.5 265.68 L353.5 265.63 L354.5 265.59 L355.5 265.55 L356.5 265.5 L357.5 265.46 L358.5 265.42 L359.5 265.38 L360.5 265.33 L361.5 265.29 L362.5 265.25 L363.5 265.21 L364.5 265.17 L365.5 265.13 L366.5 265.09 L367.5 265.05 L368.5 265.01 L369.5 264.98 L370.5 264.94 L371.5 264.9 L372.5 264.86 L373.5 264.83 L374.5 264.79 L375.5 264.75 L376.5 264.72 L377.5 264.68 L378.5 264.65 L379.5 264.62 L380.5 264.58 L381.5 264.55 L382.5 264.52 L383.5 264.48 L384.5 264.45 L385.5 264.42 L386.5 264.39 L387.5 264.36 L388.5 264.33 L389.5 264.3 L390.5 264.27 L391.5 264.24 L392.5 264.21 L393.5 264.18 L394.5 264.15 L395.5 264.12 L396.4 264.09" fill="none" stroke="#0000ff" stroke-width="1.7" stroke-dasharray="3.3 2.7"/>
<rect x="346.1" y="280.1" width="48.2" height="29.2" fill="#fff" stroke="#7f7f7f" stroke-width="1"/>
<path d="M348.7 285.7 L363.4 285.7" fill="none" stroke="#000" stroke-width="1.6" stroke-linejoin="round"/>
<text x="365" y="288.5" font-size="8.0" text-anchor="start" font-weight="normal" fill="#1e1e1e" >LFA</text>
<path d="M348.7 295 L363.4 295" fill="none" stroke="#ff4a4a" stroke-width="1.3" stroke-dasharray="0.9 1.35"/>
<text x="365" y="297.8" font-size="8.0" text-anchor="start" font-weight="normal" fill="#1e1e1e" >ECCC</text>
<path d="M348.7 304.2 L363.4 304.2" fill="none" stroke="#0000ff" stroke-width="1.7" stroke-dasharray="3.3 2.7"/>
<text x="365" y="307" font-size="8.0" text-anchor="start" font-weight="normal" fill="#1e1e1e" >No CCF</text>
<text x="0" y="0" font-size="7.9" text-anchor="middle" fill="#1e1e1e" transform="translate(223.8 270.4) rotate(-90)">(W/m<tspan font-size="5.6" dy="-3.6">2</tspan><tspan dy="3.6" font-size="9">•</tspan>yr)</text>
<text x="213.3" y="304.7" font-size="7.5" text-anchor="start" font-weight="bold" fill="#1e1e1e" >(f)</text>
<rect x="191.8" y="220.3" width="35.4" height="15.2" rx="0.8" fill="#fff" stroke="#2a2a2a" stroke-width="1.35"/>
<text x="209.5" y="228.9" font-size="7.5" font-weight="bold" text-anchor="middle" fill="#1e1e1e">N<tspan font-size="5" dy="4" dx="0.4">2</tspan><tspan dy="-4" dx="0.2">O</tspan></text>
<rect x="234.5" y="335.1" width="161.9" height="84" fill="none" stroke="#7f7f7f" stroke-width="1"/>
<path d="M234.5 419.1 v-1.6 M234.5 335.1 v1.6" stroke="#7f7f7f" stroke-width="1"/>
<text transform="translate(235 428.1) scale(0.92 1)" font-size="8.2" text-anchor="middle" font-weight="normal" fill="#1e1e1e" >0</text>
<path d="M266.88 419.1 v-1.6 M266.88 335.1 v1.6" stroke="#7f7f7f" stroke-width="1"/>
<text transform="translate(267.38 428.1) scale(0.92 1)" font-size="8.2" text-anchor="middle" font-weight="normal" fill="#1e1e1e" >100</text>
<path d="M299.26 419.1 v-1.6 M299.26 335.1 v1.6" stroke="#7f7f7f" stroke-width="1"/>
<text transform="translate(299.76 428.1) scale(0.92 1)" font-size="8.2" text-anchor="middle" font-weight="normal" fill="#1e1e1e" >200</text>
<path d="M331.64 419.1 v-1.6 M331.64 335.1 v1.6" stroke="#7f7f7f" stroke-width="1"/>
<text transform="translate(332.14 428.1) scale(0.92 1)" font-size="8.2" text-anchor="middle" font-weight="normal" fill="#1e1e1e" >300</text>
<path d="M364.02 419.1 v-1.6 M364.02 335.1 v1.6" stroke="#7f7f7f" stroke-width="1"/>
<text transform="translate(364.52 428.1) scale(0.92 1)" font-size="8.2" text-anchor="middle" font-weight="normal" fill="#1e1e1e" >400</text>
<path d="M396.4 419.1 v-1.6 M396.4 335.1 v1.6" stroke="#7f7f7f" stroke-width="1"/>
<text transform="translate(396.9 428.1) scale(0.92 1)" font-size="8.2" text-anchor="middle" font-weight="normal" fill="#1e1e1e" >500</text>
<path d="M234.5 419.1 h1.6 M396.4 419.1 h-1.6" stroke="#7f7f7f" stroke-width="1"/>
<text transform="translate(232.9 422) scale(0.92 1)" font-size="8.2" text-anchor="end" font-weight="normal" fill="#1e1e1e" >0</text>
<path d="M234.5 398.1 h1.6 M396.4 398.1 h-1.6" stroke="#7f7f7f" stroke-width="1"/>
<text transform="translate(232.9 401) scale(0.92 1)" font-size="8.2" text-anchor="end" font-weight="normal" fill="#1e1e1e" >1</text>
<path d="M234.5 377.1 h1.6 M396.4 377.1 h-1.6" stroke="#7f7f7f" stroke-width="1"/>
<text transform="translate(232.9 380) scale(0.92 1)" font-size="8.2" text-anchor="end" font-weight="normal" fill="#1e1e1e" >2</text>
<path d="M234.5 356.1 h1.6 M396.4 356.1 h-1.6" stroke="#7f7f7f" stroke-width="1"/>
<text transform="translate(232.9 359) scale(0.92 1)" font-size="8.2" text-anchor="end" font-weight="normal" fill="#1e1e1e" >3</text>
<path d="M234.5 335.1 h1.6 M396.4 335.1 h-1.6" stroke="#7f7f7f" stroke-width="1"/>
<text transform="translate(232.9 338) scale(0.92 1)" font-size="8.2" text-anchor="end" font-weight="normal" fill="#1e1e1e" >4</text>
<text x="234.3" y="332.6" font-size="7.6" fill="#1e1e1e" letter-spacing="0.15">x 10<tspan font-size="5.4" dy="-4.0" letter-spacing="0">-7</tspan></text>
<path d="M234.5 419 L235.5 417.02 L236.5 415.99 L237.5 415.23 L238.5 414.61 L239.5 413.99 L240.5 413.42 L241.5 412.91 L242.5 412.45 L243.5 412.02 L244.5 411.59 L245.5 411.18 L246.5 410.77 L247.5 410.35 L248.5 409.93 L249.5 409.5 L250.5 409.07 L251.5 408.66 L252.5 408.24 L253.5 407.84 L254.5 407.44 L255.5 407.04 L256.5 406.65 L257.5 406.27 L258.5 405.88 L259.5 405.5 L260.5 405.11 L261.5 404.72 L262.5 404.33 L263.5 403.93 L264.5 403.53 L265.5 403.12 L266.5 402.71 L267.5 402.3 L268.5 401.88 L269.5 401.46 L270.5 401.04 L271.5 400.61 L272.5 400.19 L273.5 399.76 L274.5 399.34 L275.5 398.92 L276.5 398.5 L277.5 398.08 L278.5 397.67 L279.5 397.27 L280.5 396.86 L281.5 396.46 L282.5 396.07 L283.5 395.68 L284.5 395.29 L285.5 394.9 L286.5 394.52 L287.5 394.14 L288.5 393.76 L289.5 393.38 L290.5 393 L291.5 392.63 L292.5 392.25 L293.5 391.88 L294.5 391.5 L295.5 391.13 L296.5 390.76 L297.5 390.38 L298.5 390.01 L299.5 389.64 L300.5 389.27 L301.5 388.9 L302.5 388.54 L303.5 388.17 L304.5 387.8 L305.5 387.44 L306.5 387.07 L307.5 386.71 L308.5 386.35 L309.5 385.99 L310.5 385.63 L311.5 385.27 L312.5 384.92 L313.5 384.56 L314.5 384.21 L315.5 383.85 L316.5 383.5 L317.5 383.15 L318.5 382.8 L319.5 382.45 L320.5 382.1 L321.5 381.75 L322.5 381.4 L323.5 381.06 L324.5 380.71 L325.5 380.36 L326.5 380.01 L327.5 379.67 L328.5 379.32 L329.5 378.97 L330.5 378.62 L331.5 378.28 L332.5 377.93 L333.5 377.58 L334.5 377.23 L335.5 376.89 L336.5 376.54 L337.5 376.19 L338.5 375.84 L339.5 375.49 L340.5 375.15 L341.5 374.8 L342.5 374.45 L343.5 374.11 L344.5 373.76 L345.5 373.42 L346.5 373.07 L347.5 372.73 L348.5 372.38 L349.5 372.04 L350.5 371.7 L351.5 371.36 L352.5 371.02 L353.5 370.68 L354.5 370.34 L355.5 370.01 L356.5 369.67 L357.5 369.34 L358.5 369 L359.5 368.67 L360.5 368.34 L361.5 368.01 L362.5 367.67 L363.5 367.34 L364.5 367.02 L365.5 366.69 L366.5 366.36 L367.5 366.03 L368.5 365.7 L369.5 365.38 L370.5 365.05 L371.5 364.73 L372.5 364.4 L373.5 364.07 L374.5 363.75 L375.5 363.42 L376.5 363.1 L377.5 362.77 L378.5 362.45 L379.5 362.13 L380.5 361.8 L381.5 361.48 L382.5 361.16 L383.5 360.83 L384.5 360.51 L385.5 360.19 L386.5 359.87 L387.5 359.55 L388.5 359.23 L389.5 358.91 L390.5 358.59 L391.5 358.27 L392.5 357.95 L393.5 357.63 L394.5 357.32 L395.5 357 L396.4 356.68" fill="none" stroke="#ff4a4a" stroke-width="1.3" stroke-dasharray="0.9 1.35"/>
<rect x="351.9" y="405.3" width="42" height="11.5" fill="#fff" stroke="#7f7f7f" stroke-width="1"/>
<path d="M354.5 411.05 L369.2 411.05" fill="none" stroke="#ff4a4a" stroke-width="1.3" stroke-dasharray="0.9 1.35"/>
<text x="370.8" y="413.85" font-size="8.0" text-anchor="start" font-weight="normal" fill="#1e1e1e" >ECCC</text>
<text x="0" y="0" font-size="7.9" text-anchor="middle" fill="#1e1e1e" transform="translate(223.8 377.4) rotate(-90)">(W/m<tspan font-size="5.6" dy="-3.6">2</tspan><tspan dy="3.6" font-size="9">•</tspan>yr)</text>
<text x="212.3" y="411.8" font-size="7.5" text-anchor="start" font-weight="bold" fill="#1e1e1e" >(h)</text>
<rect x="191.8" y="327.3" width="35.4" height="15.2" rx="0.8" fill="#fff" stroke="#2a2a2a" stroke-width="1.35"/>
<text x="209.5" y="335.9" font-size="7.5" font-weight="bold" text-anchor="middle" fill="#1e1e1e">CO<tspan font-size="5" dy="4" dx="0.4">2</tspan><tspan dy="-4" dx="0.2"></tspan></text>
<rect x="234.5" y="442.1" width="161.9" height="84" fill="none" stroke="#7f7f7f" stroke-width="1"/>
<path d="M234.5 526.1 v-1.6 M234.5 442.1 v1.6" stroke="#7f7f7f" stroke-width="1"/>
<text transform="translate(235 535.1) scale(0.92 1)" font-size="8.2" text-anchor="middle" font-weight="normal" fill="#1e1e1e" >0</text>
<path d="M266.88 526.1 v-1.6 M266.88 442.1 v1.6" stroke="#7f7f7f" stroke-width="1"/>
<text transform="translate(267.38 535.1) scale(0.92 1)" font-size="8.2" text-anchor="middle" font-weight="normal" fill="#1e1e1e" >100</text>
<path d="M299.26 526.1 v-1.6 M299.26 442.1 v1.6" stroke="#7f7f7f" stroke-width="1"/>
<text transform="translate(299.76 535.1) scale(0.92 1)" font-size="8.2" text-anchor="middle" font-weight="normal" fill="#1e1e1e" >200</text>
<path d="M331.64 526.1 v-1.6 M331.64 442.1 v1.6" stroke="#7f7f7f" stroke-width="1"/>
<text transform="translate(332.14 535.1) scale(0.92 1)" font-size="8.2" text-anchor="middle" font-weight="normal" fill="#1e1e1e" >300</text>
<path d="M364.02 526.1 v-1.6 M364.02 442.1 v1.6" stroke="#7f7f7f" stroke-width="1"/>
<text transform="translate(364.52 535.1) scale(0.92 1)" font-size="8.2" text-anchor="middle" font-weight="normal" fill="#1e1e1e" >400</text>
<path d="M396.4 526.1 v-1.6 M396.4 442.1 v1.6" stroke="#7f7f7f" stroke-width="1"/>
<text transform="translate(396.9 535.1) scale(0.92 1)" font-size="8.2" text-anchor="middle" font-weight="normal" fill="#1e1e1e" >500</text>
<path d="M234.5 526.1 h1.6 M396.4 526.1 h-1.6" stroke="#7f7f7f" stroke-width="1"/>
<text transform="translate(232.9 529) scale(0.92 1)" font-size="8.2" text-anchor="end" font-weight="normal" fill="#1e1e1e" >0</text>
<path d="M234.5 498.1 h1.6 M396.4 498.1 h-1.6" stroke="#7f7f7f" stroke-width="1"/>
<text transform="translate(232.9 501) scale(0.92 1)" font-size="8.2" text-anchor="end" font-weight="normal" fill="#1e1e1e" >0.005</text>
<path d="M234.5 470.1 h1.6 M396.4 470.1 h-1.6" stroke="#7f7f7f" stroke-width="1"/>
<text transform="translate(232.9 473) scale(0.92 1)" font-size="8.2" text-anchor="end" font-weight="normal" fill="#1e1e1e" >0.01</text>
<text x="319.45" y="541.9" font-size="8.2" text-anchor="middle" font-weight="normal" fill="#1e1e1e" >Years after emission</text>
<path d="M234.5 526.1 L235.31 525.73 L236.13 525.37 L236.94 525 L237.75 524.64 L238.57 524.27 L239.38 523.91 L240.19 523.54 L241.01 523.17 L241.82 522.81 L242.64 522.44 L243.45 522.08 L244.26 521.71 L245.08 521.34 L245.89 520.98 L246.7 520.61 L247.52 520.25 L248.33 519.88 L249.14 519.51 L249.96 519.15 L250.77 518.78 L251.58 518.41 L252.4 518.05 L253.21 517.68 L254.03 517.31 L254.84 516.95 L255.65 516.58 L256.47 516.21 L257.28 515.84 L258.09 515.48 L258.91 515.11 L259.72 514.74 L260.53 514.37 L261.35 514 L262.16 513.63 L262.97 513.26 L263.79 512.89 L264.6 512.52 L265.42 512.15 L266.23 511.78 L267.04 511.41 L267.86 511.04 L268.67 510.67 L269.48 510.3 L270.3 509.93 L271.11 509.55 L271.92 509.18 L272.74 508.81 L273.55 508.44 L274.36 508.06 L275.18 507.69 L275.99 507.31 L276.81 506.94 L277.62 506.56 L278.43 506.19 L279.25 505.81 L280.06 505.43 L280.87 505.06 L281.69 504.68 L282.5 504.3 L283.31 503.92 L284.13 503.54 L284.94 503.16 L285.75 502.78 L286.57 502.4 L287.38 502.02 L288.2 501.64 L289.01 501.26 L289.82 500.88 L290.64 500.49 L291.45 500.11 L292.26 499.73 L293.08 499.34 L293.89 498.96 L294.7 498.57 L295.52 498.18 L296.33 497.79 L297.14 497.41 L297.96 497.02 L298.77 496.63 L299.59 496.24 L300.4 495.85 L301.21 495.46 L302.03 495.07 L302.84 494.67 L303.65 494.28 L304.47 493.89 L305.28 493.49 L306.09 493.09 L306.91 492.7 L307.72 492.3 L308.53 491.9 L309.35 491.51 L310.16 491.11 L310.98 490.71 L311.79 490.3 L312.6 489.9 L313.42 489.5 L314.23 489.1 L315.04 488.69 L315.86 488.29 L316.67 487.88 L317.48 487.48 L318.3 487.07 L319.11 486.66 L319.92 486.25 L320.74 485.84 L321.55 485.43 L322.37 485.02 L323.18 484.6 L323.99 484.19 L324.81 483.78 L325.62 483.36 L326.43 482.94 L327.25 482.53 L328.06 482.11 L328.87 481.69 L329.69 481.27 L330.5 480.84 L331.31 480.42 L332.13 480 L332.94 479.57 L333.76 479.15 L334.57 478.72 L335.38 478.29 L336.2 477.86 L337.01 477.43 L337.82 477 L338.64 476.57 L339.45 476.14 L340.26 475.7 L341.08 475.27 L341.89 474.83 L342.7 474.39 L343.52 473.95 L344.33 473.51 L345.15 473.07 L345.96 472.63 L346.77 472.19 L347.59 471.74 L348.4 471.3 L349.21 470.85 L350.03 470.4 L350.84 469.95 L351.65 469.5 L352.47 469.05 L353.28 468.59 L354.09 468.14 L354.91 467.68 L355.72 467.23 L356.54 466.77 L357.35 466.31 L358.16 465.85 L358.98 465.39 L359.79 464.92 L360.6 464.46 L361.42 463.99 L362.23 463.52 L363.04 463.05 L363.86 462.58 L364.67 462.11 L365.48 461.64 L366.3 461.16 L367.11 460.69 L367.93 460.21 L368.74 459.73 L369.55 459.25 L370.37 458.77 L371.18 458.28 L371.99 457.8 L372.81 457.31 L373.62 456.83 L374.43 456.34 L375.25 455.85 L376.06 455.35 L376.87 454.86 L377.69 454.36 L378.5 453.87 L379.32 453.37 L380.13 452.87 L380.94 452.37 L381.76 451.87 L382.57 451.36 L383.38 450.85 L384.2 450.35 L385.01 449.84 L385.82 449.33 L386.64 448.81 L387.45 448.3 L388.26 447.78 L389.08 447.27 L389.89 446.75 L390.71 446.23 L391.52 445.7 L392.33 445.18 L393.15 444.65 L393.96 444.12 L394.77 443.6 L395.59 443.06 L396.4 442.53" fill="none" stroke="#000" stroke-width="1.6" stroke-linejoin="round"/>
<path d="M234.5 526.1 L235.31 525.72 L236.13 525.34 L236.94 524.97 L237.75 524.59 L238.57 524.21 L239.38 523.83 L240.19 523.45 L241.01 523.08 L241.82 522.7 L242.64 522.32 L243.45 521.94 L244.26 521.56 L245.08 521.18 L245.89 520.8 L246.7 520.43 L247.52 520.05 L248.33 519.67 L249.14 519.29 L249.96 518.91 L250.77 518.53 L251.58 518.15 L252.4 517.77 L253.21 517.39 L254.03 517.02 L254.84 516.64 L255.65 516.26 L256.47 515.88 L257.28 515.5 L258.09 515.12 L258.91 514.74 L259.72 514.36 L260.53 513.98 L261.35 513.6 L262.16 513.22 L262.97 512.84 L263.79 512.47 L264.6 512.09 L265.42 511.71 L266.23 511.33 L267.04 510.95 L267.86 510.57 L268.67 510.19 L269.48 509.81 L270.3 509.43 L271.11 509.05 L271.92 508.67 L272.74 508.29 L273.55 507.91 L274.36 507.53 L275.18 507.15 L275.99 506.77 L276.81 506.4 L277.62 506.02 L278.43 505.64 L279.25 505.26 L280.06 504.88 L280.87 504.5 L281.69 504.12 L282.5 503.74 L283.31 503.36 L284.13 502.98 L284.94 502.6 L285.75 502.22 L286.57 501.84 L287.38 501.47 L288.2 501.09 L289.01 500.71 L289.82 500.33 L290.64 499.95 L291.45 499.57 L292.26 499.19 L293.08 498.81 L293.89 498.43 L294.7 498.06 L295.52 497.68 L296.33 497.3 L297.14 496.92 L297.96 496.54 L298.77 496.16 L299.59 495.78 L300.4 495.41 L301.21 495.03 L302.03 494.65 L302.84 494.27 L303.65 493.89 L304.47 493.51 L305.28 493.14 L306.09 492.76 L306.91 492.38 L307.72 492 L308.53 491.62 L309.35 491.25 L310.16 490.87 L310.98 490.49 L311.79 490.11 L312.6 489.74 L313.42 489.36 L314.23 488.98 L315.04 488.6 L315.86 488.23 L316.67 487.85 L317.48 487.47 L318.3 487.1 L319.11 486.72 L319.92 486.34 L320.74 485.97 L321.55 485.59 L322.37 485.21 L323.18 484.84 L323.99 484.46 L324.81 484.08 L325.62 483.71 L326.43 483.33 L327.25 482.96 L328.06 482.58 L328.87 482.2 L329.69 481.83 L330.5 481.45 L331.31 481.08 L332.13 480.7 L332.94 480.33 L333.76 479.95 L334.57 479.58 L335.38 479.2 L336.2 478.83 L337.01 478.45 L337.82 478.08 L338.64 477.71 L339.45 477.33 L340.26 476.96 L341.08 476.58 L341.89 476.21 L342.7 475.84 L343.52 475.46 L344.33 475.09 L345.15 474.72 L345.96 474.34 L346.77 473.97 L347.59 473.6 L348.4 473.22 L349.21 472.85 L350.03 472.48 L350.84 472.11 L351.65 471.73 L352.47 471.36 L353.28 470.99 L354.09 470.62 L354.91 470.25 L355.72 469.88 L356.54 469.5 L357.35 469.13 L358.16 468.76 L358.98 468.39 L359.79 468.02 L360.6 467.65 L361.42 467.28 L362.23 466.91 L363.04 466.54 L363.86 466.17 L364.67 465.8 L365.48 465.43 L366.3 465.06 L367.11 464.69 L367.93 464.32 L368.74 463.96 L369.55 463.59 L370.37 463.22 L371.18 462.85 L371.99 462.48 L372.81 462.11 L373.62 461.75 L374.43 461.38 L375.25 461.01 L376.06 460.64 L376.87 460.28 L377.69 459.91 L378.5 459.54 L379.32 459.18 L380.13 458.81 L380.94 458.45 L381.76 458.08 L382.57 457.72 L383.38 457.35 L384.2 456.98 L385.01 456.62 L385.82 456.26 L386.64 455.89 L387.45 455.53 L388.26 455.16 L389.08 454.8 L389.89 454.44 L390.71 454.07 L391.52 453.71 L392.33 453.35 L393.15 452.98 L393.96 452.62 L394.77 452.26 L395.59 451.9 L396.4 451.53" fill="none" stroke="#ff4a4a" stroke-width="1.3" stroke-dasharray="0.9 1.35"/>
<path d="M234.5 526.1 L235.31 525.76 L236.13 525.43 L236.94 525.09 L237.75 524.76 L238.57 524.43 L239.38 524.09 L240.19 523.76 L241.01 523.43 L241.82 523.09 L242.64 522.76 L243.45 522.43 L244.26 522.1 L245.08 521.77 L245.89 521.44 L246.7 521.11 L247.52 520.78 L248.33 520.46 L249.14 520.13 L249.96 519.8 L250.77 519.47 L251.58 519.15 L252.4 518.82 L253.21 518.49 L254.03 518.17 L254.84 517.84 L255.65 517.52 L256.47 517.2 L257.28 516.87 L258.09 516.55 L258.91 516.23 L259.72 515.91 L260.53 515.58 L261.35 515.26 L262.16 514.94 L262.97 514.62 L263.79 514.3 L264.6 513.98 L265.42 513.66 L266.23 513.34 L267.04 513.03 L267.86 512.71 L268.67 512.39 L269.48 512.07 L270.3 511.76 L271.11 511.44 L271.92 511.12 L272.74 510.81 L273.55 510.49 L274.36 510.18 L275.18 509.87 L275.99 509.55 L276.81 509.24 L277.62 508.93 L278.43 508.61 L279.25 508.3 L280.06 507.99 L280.87 507.68 L281.69 507.37 L282.5 507.06 L283.31 506.75 L284.13 506.44 L284.94 506.13 L285.75 505.82 L286.57 505.51 L287.38 505.2 L288.2 504.89 L289.01 504.59 L289.82 504.28 L290.64 503.97 L291.45 503.67 L292.26 503.36 L293.08 503.05 L293.89 502.75 L294.7 502.44 L295.52 502.14 L296.33 501.84 L297.14 501.53 L297.96 501.23 L298.77 500.93 L299.59 500.62 L300.4 500.32 L301.21 500.02 L302.03 499.72 L302.84 499.42 L303.65 499.12 L304.47 498.82 L305.28 498.52 L306.09 498.22 L306.91 497.92 L307.72 497.62 L308.53 497.32 L309.35 497.02 L310.16 496.72 L310.98 496.43 L311.79 496.13 L312.6 495.83 L313.42 495.54 L314.23 495.24 L315.04 494.94 L315.86 494.65 L316.67 494.35 L317.48 494.06 L318.3 493.76 L319.11 493.47 L319.92 493.18 L320.74 492.88 L321.55 492.59 L322.37 492.3 L323.18 492 L323.99 491.71 L324.81 491.42 L325.62 491.13 L326.43 490.84 L327.25 490.55 L328.06 490.26 L328.87 489.97 L329.69 489.68 L330.5 489.39 L331.31 489.1 L332.13 488.81 L332.94 488.52 L333.76 488.23 L334.57 487.94 L335.38 487.66 L336.2 487.37 L337.01 487.08 L337.82 486.79 L338.64 486.51 L339.45 486.22 L340.26 485.94 L341.08 485.65 L341.89 485.36 L342.7 485.08 L343.52 484.79 L344.33 484.51 L345.15 484.23 L345.96 483.94 L346.77 483.66 L347.59 483.38 L348.4 483.09 L349.21 482.81 L350.03 482.53 L350.84 482.24 L351.65 481.96 L352.47 481.68 L353.28 481.4 L354.09 481.12 L354.91 480.84 L355.72 480.56 L356.54 480.28 L357.35 480 L358.16 479.72 L358.98 479.44 L359.79 479.16 L360.6 478.88 L361.42 478.6 L362.23 478.32 L363.04 478.04 L363.86 477.77 L364.67 477.49 L365.48 477.21 L366.3 476.93 L367.11 476.66 L367.93 476.38 L368.74 476.1 L369.55 475.83 L370.37 475.55 L371.18 475.28 L371.99 475 L372.81 474.73 L373.62 474.45 L374.43 474.18 L375.25 473.9 L376.06 473.63 L376.87 473.35 L377.69 473.08 L378.5 472.81 L379.32 472.53 L380.13 472.26 L380.94 471.99 L381.76 471.72 L382.57 471.44 L383.38 471.17 L384.2 470.9 L385.01 470.63 L385.82 470.36 L386.64 470.08 L387.45 469.81 L388.26 469.54 L389.08 469.27 L389.89 469 L390.71 468.73 L391.52 468.46 L392.33 468.19 L393.15 467.92 L393.96 467.65 L394.77 467.38 L395.59 467.11 L396.4 466.85" fill="none" stroke="#0000ff" stroke-width="1.7" stroke-dasharray="3.3 2.7"/>
<rect x="344.8" y="492.3" width="49.4" height="30.3" fill="#fff" stroke="#7f7f7f" stroke-width="1"/>
<path d="M347.4 497.9 L362.1 497.9" fill="none" stroke="#000" stroke-width="1.6" stroke-linejoin="round"/>
<text x="363.7" y="500.7" font-size="8.0" text-anchor="start" font-weight="normal" fill="#1e1e1e" >LFA</text>
<path d="M347.4 507.2 L362.1 507.2" fill="none" stroke="#ff4a4a" stroke-width="1.3" stroke-dasharray="0.9 1.35"/>
<text x="363.7" y="510" font-size="8.0" text-anchor="start" font-weight="normal" fill="#1e1e1e" >ECCC</text>
<path d="M347.4 516.4 L362.1 516.4" fill="none" stroke="#0000ff" stroke-width="1.7" stroke-dasharray="3.3 2.7"/>
<text x="363.7" y="519.2" font-size="8.0" text-anchor="start" font-weight="normal" fill="#1e1e1e" >No CCF</text>
<text x="0" y="0" font-size="7.9" text-anchor="middle" fill="#1e1e1e" transform="translate(210 483.8) rotate(-90)">(W/m<tspan font-size="5.6" dy="-3.6">2</tspan><tspan dy="3.6" font-size="9">•</tspan>yr)</text>
<text x="213.4" y="517.7" font-size="7.5" text-anchor="start" font-weight="bold" fill="#1e1e1e" >(j)</text>
<rect x="191.8" y="434.3" width="35.4" height="15.2" rx="0.8" fill="#fff" stroke="#2a2a2a" stroke-width="1.35"/>
<text x="209.5" y="442.9" font-size="7.5" font-weight="bold" text-anchor="middle" fill="#1e1e1e">SF<tspan font-size="5" dy="4" dx="0.4">6</tspan><tspan dy="-4" dx="0.2"></tspan></text>
</g></svg>
</body></html>
